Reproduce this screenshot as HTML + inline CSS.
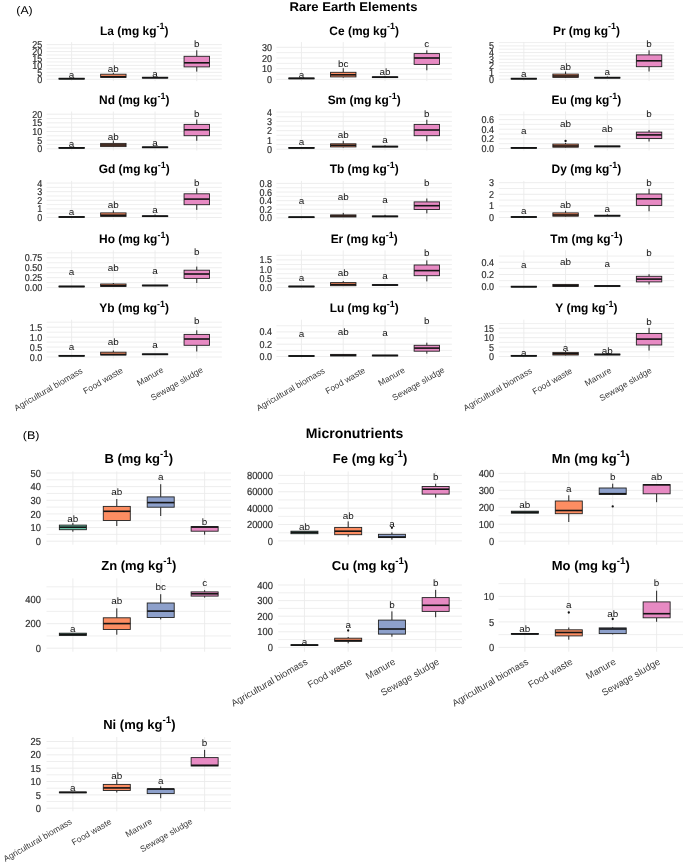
<!DOCTYPE html><html><head><meta charset="utf-8"><style>html,body{margin:0;padding:0;background:#fff;}svg{display:block;filter:blur(0.3px);text-rendering:geometricPrecision;font-family:"Liberation Sans",sans-serif;}</style></head><body>
<svg width="685" height="863" viewBox="0 0 685 863">
<rect width="685" height="863" fill="#fff"/>
<text transform="translate(16.3,13.8) scale(1.1,1)" font-size="11.2" text-anchor="start" fill="#000">(A)</text>
<text x="353.5" y="10.9" font-size="12.6" font-weight="bold" text-anchor="middle" textLength="128" lengthAdjust="spacingAndGlyphs">Rare Earth Elements</text>
<text transform="translate(22.8,439.2) scale(1.12,1)" font-size="11.2" text-anchor="start" fill="#000">(B)</text>
<text x="354.6" y="437.6" font-size="14" font-weight="bold" text-anchor="middle" textLength="97.5" lengthAdjust="spacingAndGlyphs">Micronutrients</text>
<g stroke="#EBEBEB" fill="none">
<line x1="46.6" x2="221.8" y1="75.83" y2="75.83" stroke-width="0.8"/>
<line x1="46.6" x2="221.8" y1="68.89" y2="68.89" stroke-width="0.8"/>
<line x1="46.6" x2="221.8" y1="61.95" y2="61.95" stroke-width="0.8"/>
<line x1="46.6" x2="221.8" y1="55.01" y2="55.01" stroke-width="0.8"/>
<line x1="46.6" x2="221.8" y1="48.07" y2="48.07" stroke-width="0.8"/>
<line x1="46.6" x2="221.8" y1="79.3" y2="79.3" stroke-width="0.9"/>
<line x1="46.6" x2="221.8" y1="72.36" y2="72.36" stroke-width="0.9"/>
<line x1="46.6" x2="221.8" y1="65.42" y2="65.42" stroke-width="0.9"/>
<line x1="46.6" x2="221.8" y1="58.48" y2="58.48" stroke-width="0.9"/>
<line x1="46.6" x2="221.8" y1="51.54" y2="51.54" stroke-width="0.9"/>
<line x1="46.6" x2="221.8" y1="44.6" y2="44.6" stroke-width="0.9"/>
<line x1="71.63" x2="71.63" y1="42.1" y2="81.1" stroke-width="0.9"/>
<line x1="113.34" x2="113.34" y1="42.1" y2="81.1" stroke-width="0.9"/>
<line x1="155.06" x2="155.06" y1="42.1" y2="81.1" stroke-width="0.9"/>
<line x1="196.77" x2="196.77" y1="42.1" y2="81.1" stroke-width="0.9"/>
</g>
<text transform="translate(42.2,82.88) scale(0.9,1)" font-size="10" text-anchor="end" fill="#2e2e2e" stroke="#2e2e2e" stroke-width="0.2">0</text>
<text transform="translate(42.2,75.94) scale(0.9,1)" font-size="10" text-anchor="end" fill="#2e2e2e" stroke="#2e2e2e" stroke-width="0.2">5</text>
<text transform="translate(42.2,69) scale(0.9,1)" font-size="10" text-anchor="end" fill="#2e2e2e" stroke="#2e2e2e" stroke-width="0.2">10</text>
<text transform="translate(42.2,62.06) scale(0.9,1)" font-size="10" text-anchor="end" fill="#2e2e2e" stroke="#2e2e2e" stroke-width="0.2">15</text>
<text transform="translate(42.2,55.12) scale(0.9,1)" font-size="10" text-anchor="end" fill="#2e2e2e" stroke="#2e2e2e" stroke-width="0.2">20</text>
<text transform="translate(42.2,48.18) scale(0.9,1)" font-size="10" text-anchor="end" fill="#2e2e2e" stroke="#2e2e2e" stroke-width="0.2">25</text>
<g stroke="#222">
<rect x="58.93" y="78.3" width="25.4" height="0.8" fill="#66C2A5" stroke-width="0.9"/>
<line x1="58.93" x2="84.33" y1="78.7" y2="78.7" stroke="#141414" stroke-width="1.6"/>
</g>
<g stroke="#222">
<line x1="113.34" x2="113.34" y1="72.8" y2="74.2" stroke-width="1"/>
<rect x="100.64" y="74.2" width="25.4" height="3.2" fill="#FC8D62" stroke-width="0.9"/>
<line x1="100.64" x2="126.04" y1="76.7" y2="76.7" stroke="#141414" stroke-width="1.6"/>
</g>
<g stroke="#222">
<rect x="142.36" y="77.3" width="25.4" height="0.8" fill="#8DA0CB" stroke-width="0.9"/>
<line x1="142.36" x2="167.76" y1="77.7" y2="77.7" stroke="#141414" stroke-width="1.6"/>
</g>
<g stroke="#222">
<line x1="196.77" x2="196.77" y1="50.3" y2="56.3" stroke-width="1"/>
<line x1="196.77" x2="196.77" y1="66.9" y2="71.6" stroke-width="1"/>
<rect x="184.07" y="56.3" width="25.4" height="10.6" fill="#E78AC3" stroke-width="0.9"/>
<line x1="184.07" x2="209.47" y1="62.8" y2="62.8" stroke="#141414" stroke-width="1.6"/>
</g>
<text transform="translate(71.63,77.5) scale(1.08,1)" font-size="9.2" text-anchor="middle" fill="#151515">a</text>
<text transform="translate(113.34,71.9) scale(1.08,1)" font-size="9.2" text-anchor="middle" fill="#151515">ab</text>
<text transform="translate(155.06,76.5) scale(1.08,1)" font-size="9.2" text-anchor="middle" fill="#151515">a</text>
<text transform="translate(196.77,47) scale(1.08,1)" font-size="9.2" text-anchor="middle" fill="#151515">b</text>
<text transform="translate(134.2,34.5) scale(0.98,1)" font-size="12.2" font-weight="bold" text-anchor="middle" fill="#000">La (mg kg<tspan font-size="9.15" dy="-5.12">-1</tspan><tspan dy="5.12">)</tspan></text>
<g stroke="#EBEBEB" fill="none">
<line x1="276.4" x2="451.9" y1="74.05" y2="74.05" stroke-width="0.8"/>
<line x1="276.4" x2="451.9" y1="63.35" y2="63.35" stroke-width="0.8"/>
<line x1="276.4" x2="451.9" y1="52.65" y2="52.65" stroke-width="0.8"/>
<line x1="276.4" x2="451.9" y1="79.4" y2="79.4" stroke-width="0.9"/>
<line x1="276.4" x2="451.9" y1="68.7" y2="68.7" stroke-width="0.9"/>
<line x1="276.4" x2="451.9" y1="58" y2="58" stroke-width="0.9"/>
<line x1="276.4" x2="451.9" y1="47.3" y2="47.3" stroke-width="0.9"/>
<line x1="301.47" x2="301.47" y1="42.1" y2="81.1" stroke-width="0.9"/>
<line x1="343.26" x2="343.26" y1="42.1" y2="81.1" stroke-width="0.9"/>
<line x1="385.04" x2="385.04" y1="42.1" y2="81.1" stroke-width="0.9"/>
<line x1="426.83" x2="426.83" y1="42.1" y2="81.1" stroke-width="0.9"/>
</g>
<text transform="translate(272,82.98) scale(0.9,1)" font-size="10" text-anchor="end" fill="#2e2e2e" stroke="#2e2e2e" stroke-width="0.2">0</text>
<text transform="translate(272,72.28) scale(0.9,1)" font-size="10" text-anchor="end" fill="#2e2e2e" stroke="#2e2e2e" stroke-width="0.2">10</text>
<text transform="translate(272,61.58) scale(0.9,1)" font-size="10" text-anchor="end" fill="#2e2e2e" stroke="#2e2e2e" stroke-width="0.2">20</text>
<text transform="translate(272,50.88) scale(0.9,1)" font-size="10" text-anchor="end" fill="#2e2e2e" stroke="#2e2e2e" stroke-width="0.2">30</text>
<g stroke="#222">
<rect x="288.77" y="78" width="25.4" height="0.8" fill="#66C2A5" stroke-width="0.9"/>
<line x1="288.77" x2="314.17" y1="78.4" y2="78.4" stroke="#141414" stroke-width="1.6"/>
</g>
<g stroke="#222">
<line x1="343.26" x2="343.26" y1="68.2" y2="72.3" stroke-width="1"/>
<line x1="343.26" x2="343.26" y1="76.9" y2="77.6" stroke-width="1"/>
<rect x="330.56" y="72.3" width="25.4" height="4.6" fill="#FC8D62" stroke-width="0.9"/>
<line x1="330.56" x2="355.96" y1="74.8" y2="74.8" stroke="#141414" stroke-width="1.6"/>
</g>
<g stroke="#222">
<line x1="385.04" x2="385.04" y1="75.8" y2="76.8" stroke-width="1"/>
<rect x="372.34" y="76.8" width="25.4" height="0.8" fill="#8DA0CB" stroke-width="0.9"/>
<line x1="372.34" x2="397.74" y1="77.2" y2="77.2" stroke="#141414" stroke-width="1.6"/>
</g>
<g stroke="#222">
<line x1="426.83" x2="426.83" y1="50.3" y2="53.6" stroke-width="1"/>
<line x1="426.83" x2="426.83" y1="64.4" y2="70.3" stroke-width="1"/>
<rect x="414.13" y="53.6" width="25.4" height="10.8" fill="#E78AC3" stroke-width="0.9"/>
<line x1="414.13" x2="439.53" y1="58" y2="58" stroke="#141414" stroke-width="1.6"/>
</g>
<text transform="translate(301.47,77.9) scale(1.08,1)" font-size="9.2" text-anchor="middle" fill="#151515">a</text>
<text transform="translate(343.26,66.9) scale(1.08,1)" font-size="9.2" text-anchor="middle" fill="#151515">bc</text>
<text transform="translate(385.04,75.4) scale(1.08,1)" font-size="9.2" text-anchor="middle" fill="#151515">ab</text>
<text transform="translate(426.83,47.3) scale(1.08,1)" font-size="9.2" text-anchor="middle" fill="#151515">c</text>
<text transform="translate(364.15,34.5) scale(0.98,1)" font-size="12.2" font-weight="bold" text-anchor="middle" fill="#000">Ce (mg kg<tspan font-size="9.15" dy="-5.12">-1</tspan><tspan dy="5.12">)</tspan></text>
<g stroke="#EBEBEB" fill="none">
<line x1="498.8" x2="674.1" y1="75.87" y2="75.87" stroke-width="0.8"/>
<line x1="498.8" x2="674.1" y1="69.21" y2="69.21" stroke-width="0.8"/>
<line x1="498.8" x2="674.1" y1="62.55" y2="62.55" stroke-width="0.8"/>
<line x1="498.8" x2="674.1" y1="55.89" y2="55.89" stroke-width="0.8"/>
<line x1="498.8" x2="674.1" y1="49.23" y2="49.23" stroke-width="0.8"/>
<line x1="498.8" x2="674.1" y1="42.57" y2="42.57" stroke-width="0.8"/>
<line x1="498.8" x2="674.1" y1="79.2" y2="79.2" stroke-width="0.9"/>
<line x1="498.8" x2="674.1" y1="72.54" y2="72.54" stroke-width="0.9"/>
<line x1="498.8" x2="674.1" y1="65.88" y2="65.88" stroke-width="0.9"/>
<line x1="498.8" x2="674.1" y1="59.22" y2="59.22" stroke-width="0.9"/>
<line x1="498.8" x2="674.1" y1="52.56" y2="52.56" stroke-width="0.9"/>
<line x1="498.8" x2="674.1" y1="45.9" y2="45.9" stroke-width="0.9"/>
<line x1="523.84" x2="523.84" y1="42.1" y2="81.1" stroke-width="0.9"/>
<line x1="565.58" x2="565.58" y1="42.1" y2="81.1" stroke-width="0.9"/>
<line x1="607.32" x2="607.32" y1="42.1" y2="81.1" stroke-width="0.9"/>
<line x1="649.06" x2="649.06" y1="42.1" y2="81.1" stroke-width="0.9"/>
</g>
<text transform="translate(494,82.78) scale(0.9,1)" font-size="10" text-anchor="end" fill="#2e2e2e" stroke="#2e2e2e" stroke-width="0.2">0</text>
<text transform="translate(494,76.12) scale(0.9,1)" font-size="10" text-anchor="end" fill="#2e2e2e" stroke="#2e2e2e" stroke-width="0.2">1</text>
<text transform="translate(494,69.46) scale(0.9,1)" font-size="10" text-anchor="end" fill="#2e2e2e" stroke="#2e2e2e" stroke-width="0.2">2</text>
<text transform="translate(494,62.8) scale(0.9,1)" font-size="10" text-anchor="end" fill="#2e2e2e" stroke="#2e2e2e" stroke-width="0.2">3</text>
<text transform="translate(494,56.14) scale(0.9,1)" font-size="10" text-anchor="end" fill="#2e2e2e" stroke="#2e2e2e" stroke-width="0.2">4</text>
<text transform="translate(494,49.48) scale(0.9,1)" font-size="10" text-anchor="end" fill="#2e2e2e" stroke="#2e2e2e" stroke-width="0.2">5</text>
<g stroke="#222">
<rect x="511.14" y="78.3" width="25.4" height="0.8" fill="#66C2A5" stroke-width="0.9"/>
<line x1="511.14" x2="536.54" y1="78.7" y2="78.7" stroke="#141414" stroke-width="1.6"/>
</g>
<g stroke="#222">
<line x1="565.58" x2="565.58" y1="71.5" y2="74.1" stroke-width="1"/>
<line x1="565.58" x2="565.58" y1="77.4" y2="78" stroke-width="1"/>
<rect x="552.88" y="74.1" width="25.4" height="3.3" fill="#FC8D62" stroke-width="0.9"/>
<line x1="552.88" x2="578.28" y1="76" y2="76" stroke="#141414" stroke-width="1.6"/>
</g>
<g stroke="#222">
<line x1="607.32" x2="607.32" y1="76.5" y2="77.3" stroke-width="1"/>
<rect x="594.62" y="77.3" width="25.4" height="0.8" fill="#8DA0CB" stroke-width="0.9"/>
<line x1="594.62" x2="620.02" y1="77.7" y2="77.7" stroke="#141414" stroke-width="1.6"/>
</g>
<g stroke="#222">
<line x1="649.06" x2="649.06" y1="50.3" y2="54.9" stroke-width="1"/>
<line x1="649.06" x2="649.06" y1="66.7" y2="71.5" stroke-width="1"/>
<rect x="636.36" y="54.9" width="25.4" height="11.8" fill="#E78AC3" stroke-width="0.9"/>
<line x1="636.36" x2="661.76" y1="60.8" y2="60.8" stroke="#141414" stroke-width="1.6"/>
</g>
<text transform="translate(523.84,77.2) scale(1.08,1)" font-size="9.2" text-anchor="middle" fill="#151515">a</text>
<text transform="translate(565.58,69.5) scale(1.08,1)" font-size="9.2" text-anchor="middle" fill="#151515">ab</text>
<text transform="translate(607.32,75.1) scale(1.08,1)" font-size="9.2" text-anchor="middle" fill="#151515">a</text>
<text transform="translate(649.06,47.3) scale(1.08,1)" font-size="9.2" text-anchor="middle" fill="#151515">b</text>
<text transform="translate(586.45,34.5) scale(0.98,1)" font-size="12.2" font-weight="bold" text-anchor="middle" fill="#000">Pr (mg kg<tspan font-size="9.15" dy="-5.12">-1</tspan><tspan dy="5.12">)</tspan></text>
<g stroke="#EBEBEB" fill="none">
<line x1="46.6" x2="221.8" y1="144.48" y2="144.48" stroke-width="0.8"/>
<line x1="46.6" x2="221.8" y1="135.82" y2="135.82" stroke-width="0.8"/>
<line x1="46.6" x2="221.8" y1="127.18" y2="127.18" stroke-width="0.8"/>
<line x1="46.6" x2="221.8" y1="118.53" y2="118.53" stroke-width="0.8"/>
<line x1="46.6" x2="221.8" y1="148.8" y2="148.8" stroke-width="0.9"/>
<line x1="46.6" x2="221.8" y1="140.15" y2="140.15" stroke-width="0.9"/>
<line x1="46.6" x2="221.8" y1="131.5" y2="131.5" stroke-width="0.9"/>
<line x1="46.6" x2="221.8" y1="122.85" y2="122.85" stroke-width="0.9"/>
<line x1="46.6" x2="221.8" y1="114.2" y2="114.2" stroke-width="0.9"/>
<line x1="71.63" x2="71.63" y1="111.5" y2="150.5" stroke-width="0.9"/>
<line x1="113.34" x2="113.34" y1="111.5" y2="150.5" stroke-width="0.9"/>
<line x1="155.06" x2="155.06" y1="111.5" y2="150.5" stroke-width="0.9"/>
<line x1="196.77" x2="196.77" y1="111.5" y2="150.5" stroke-width="0.9"/>
</g>
<text transform="translate(42.2,152.38) scale(0.9,1)" font-size="10" text-anchor="end" fill="#2e2e2e" stroke="#2e2e2e" stroke-width="0.2">0</text>
<text transform="translate(42.2,143.73) scale(0.9,1)" font-size="10" text-anchor="end" fill="#2e2e2e" stroke="#2e2e2e" stroke-width="0.2">5</text>
<text transform="translate(42.2,135.08) scale(0.9,1)" font-size="10" text-anchor="end" fill="#2e2e2e" stroke="#2e2e2e" stroke-width="0.2">10</text>
<text transform="translate(42.2,126.43) scale(0.9,1)" font-size="10" text-anchor="end" fill="#2e2e2e" stroke="#2e2e2e" stroke-width="0.2">15</text>
<text transform="translate(42.2,117.78) scale(0.9,1)" font-size="10" text-anchor="end" fill="#2e2e2e" stroke="#2e2e2e" stroke-width="0.2">20</text>
<g stroke="#222">
<rect x="58.93" y="147.5" width="25.4" height="0.8" fill="#66C2A5" stroke-width="0.9"/>
<line x1="58.93" x2="84.33" y1="147.9" y2="147.9" stroke="#141414" stroke-width="1.6"/>
</g>
<g stroke="#222">
<line x1="113.34" x2="113.34" y1="140.5" y2="143.4" stroke-width="1"/>
<line x1="113.34" x2="113.34" y1="146.6" y2="147" stroke-width="1"/>
<rect x="100.64" y="143.4" width="25.4" height="3.2" fill="#FC8D62" stroke-width="0.9"/>
<line x1="100.64" x2="126.04" y1="145" y2="145" stroke="#141414" stroke-width="1.6"/>
</g>
<g stroke="#222">
<rect x="142.36" y="146.9" width="25.4" height="0.8" fill="#8DA0CB" stroke-width="0.9"/>
<line x1="142.36" x2="167.76" y1="147.3" y2="147.3" stroke="#141414" stroke-width="1.6"/>
</g>
<g stroke="#222">
<line x1="196.77" x2="196.77" y1="119.6" y2="124.4" stroke-width="1"/>
<line x1="196.77" x2="196.77" y1="135.7" y2="140.8" stroke-width="1"/>
<rect x="184.07" y="124.4" width="25.4" height="11.3" fill="#E78AC3" stroke-width="0.9"/>
<line x1="184.07" x2="209.47" y1="129.8" y2="129.8" stroke="#141414" stroke-width="1.6"/>
</g>
<text transform="translate(71.63,147.3) scale(1.08,1)" font-size="9.2" text-anchor="middle" fill="#151515">a</text>
<text transform="translate(113.34,139.7) scale(1.08,1)" font-size="9.2" text-anchor="middle" fill="#151515">ab</text>
<text transform="translate(155.06,146.2) scale(1.08,1)" font-size="9.2" text-anchor="middle" fill="#151515">a</text>
<text transform="translate(196.77,116.7) scale(1.08,1)" font-size="9.2" text-anchor="middle" fill="#151515">b</text>
<text transform="translate(134.2,103.9) scale(0.98,1)" font-size="12.2" font-weight="bold" text-anchor="middle" fill="#000">Nd (mg kg<tspan font-size="9.15" dy="-5.12">-1</tspan><tspan dy="5.12">)</tspan></text>
<g stroke="#EBEBEB" fill="none">
<line x1="276.4" x2="451.9" y1="144.56" y2="144.56" stroke-width="0.8"/>
<line x1="276.4" x2="451.9" y1="135.29" y2="135.29" stroke-width="0.8"/>
<line x1="276.4" x2="451.9" y1="126.01" y2="126.01" stroke-width="0.8"/>
<line x1="276.4" x2="451.9" y1="116.74" y2="116.74" stroke-width="0.8"/>
<line x1="276.4" x2="451.9" y1="149.2" y2="149.2" stroke-width="0.9"/>
<line x1="276.4" x2="451.9" y1="139.92" y2="139.92" stroke-width="0.9"/>
<line x1="276.4" x2="451.9" y1="130.65" y2="130.65" stroke-width="0.9"/>
<line x1="276.4" x2="451.9" y1="121.38" y2="121.38" stroke-width="0.9"/>
<line x1="276.4" x2="451.9" y1="112.1" y2="112.1" stroke-width="0.9"/>
<line x1="301.47" x2="301.47" y1="111.5" y2="150.5" stroke-width="0.9"/>
<line x1="343.26" x2="343.26" y1="111.5" y2="150.5" stroke-width="0.9"/>
<line x1="385.04" x2="385.04" y1="111.5" y2="150.5" stroke-width="0.9"/>
<line x1="426.83" x2="426.83" y1="111.5" y2="150.5" stroke-width="0.9"/>
</g>
<text transform="translate(272,152.78) scale(0.9,1)" font-size="10" text-anchor="end" fill="#2e2e2e" stroke="#2e2e2e" stroke-width="0.2">0</text>
<text transform="translate(272,143.5) scale(0.9,1)" font-size="10" text-anchor="end" fill="#2e2e2e" stroke="#2e2e2e" stroke-width="0.2">1</text>
<text transform="translate(272,134.23) scale(0.9,1)" font-size="10" text-anchor="end" fill="#2e2e2e" stroke="#2e2e2e" stroke-width="0.2">2</text>
<text transform="translate(272,124.95) scale(0.9,1)" font-size="10" text-anchor="end" fill="#2e2e2e" stroke="#2e2e2e" stroke-width="0.2">3</text>
<text transform="translate(272,115.68) scale(0.9,1)" font-size="10" text-anchor="end" fill="#2e2e2e" stroke="#2e2e2e" stroke-width="0.2">4</text>
<g stroke="#222">
<rect x="288.77" y="147.5" width="25.4" height="0.8" fill="#66C2A5" stroke-width="0.9"/>
<line x1="288.77" x2="314.17" y1="147.9" y2="147.9" stroke="#141414" stroke-width="1.6"/>
</g>
<g stroke="#222">
<line x1="343.26" x2="343.26" y1="140.8" y2="143.8" stroke-width="1"/>
<line x1="343.26" x2="343.26" y1="146.9" y2="147.4" stroke-width="1"/>
<rect x="330.56" y="143.8" width="25.4" height="3.1" fill="#FC8D62" stroke-width="0.9"/>
<line x1="330.56" x2="355.96" y1="145.3" y2="145.3" stroke="#141414" stroke-width="1.6"/>
</g>
<g stroke="#222">
<line x1="385.04" x2="385.04" y1="145.4" y2="146.2" stroke-width="1"/>
<rect x="372.34" y="146.2" width="25.4" height="0.8" fill="#8DA0CB" stroke-width="0.9"/>
<line x1="372.34" x2="397.74" y1="146.6" y2="146.6" stroke="#141414" stroke-width="1.6"/>
</g>
<g stroke="#222">
<line x1="426.83" x2="426.83" y1="119.8" y2="124.4" stroke-width="1"/>
<line x1="426.83" x2="426.83" y1="135.7" y2="141.3" stroke-width="1"/>
<rect x="414.13" y="124.4" width="25.4" height="11.3" fill="#E78AC3" stroke-width="0.9"/>
<line x1="414.13" x2="439.53" y1="130" y2="130" stroke="#141414" stroke-width="1.6"/>
</g>
<text transform="translate(301.47,145.4) scale(1.08,1)" font-size="9.2" text-anchor="middle" fill="#151515">a</text>
<text transform="translate(343.26,138.2) scale(1.08,1)" font-size="9.2" text-anchor="middle" fill="#151515">ab</text>
<text transform="translate(385.04,142.8) scale(1.08,1)" font-size="9.2" text-anchor="middle" fill="#151515">a</text>
<text transform="translate(426.83,116.8) scale(1.08,1)" font-size="9.2" text-anchor="middle" fill="#151515">b</text>
<text transform="translate(364.15,103.9) scale(0.98,1)" font-size="12.2" font-weight="bold" text-anchor="middle" fill="#000">Sm (mg kg<tspan font-size="9.15" dy="-5.12">-1</tspan><tspan dy="5.12">)</tspan></text>
<g stroke="#EBEBEB" fill="none">
<line x1="498.8" x2="674.1" y1="143.68" y2="143.68" stroke-width="0.8"/>
<line x1="498.8" x2="674.1" y1="134.05" y2="134.05" stroke-width="0.8"/>
<line x1="498.8" x2="674.1" y1="124.42" y2="124.42" stroke-width="0.8"/>
<line x1="498.8" x2="674.1" y1="114.78" y2="114.78" stroke-width="0.8"/>
<line x1="498.8" x2="674.1" y1="148.5" y2="148.5" stroke-width="0.9"/>
<line x1="498.8" x2="674.1" y1="138.87" y2="138.87" stroke-width="0.9"/>
<line x1="498.8" x2="674.1" y1="129.23" y2="129.23" stroke-width="0.9"/>
<line x1="498.8" x2="674.1" y1="119.6" y2="119.6" stroke-width="0.9"/>
<line x1="523.84" x2="523.84" y1="111.5" y2="150.5" stroke-width="0.9"/>
<line x1="565.58" x2="565.58" y1="111.5" y2="150.5" stroke-width="0.9"/>
<line x1="607.32" x2="607.32" y1="111.5" y2="150.5" stroke-width="0.9"/>
<line x1="649.06" x2="649.06" y1="111.5" y2="150.5" stroke-width="0.9"/>
</g>
<text transform="translate(494,152.08) scale(0.9,1)" font-size="10" text-anchor="end" fill="#2e2e2e" stroke="#2e2e2e" stroke-width="0.2">0.0</text>
<text transform="translate(494,142.45) scale(0.9,1)" font-size="10" text-anchor="end" fill="#2e2e2e" stroke="#2e2e2e" stroke-width="0.2">0.2</text>
<text transform="translate(494,132.81) scale(0.9,1)" font-size="10" text-anchor="end" fill="#2e2e2e" stroke="#2e2e2e" stroke-width="0.2">0.4</text>
<text transform="translate(494,123.18) scale(0.9,1)" font-size="10" text-anchor="end" fill="#2e2e2e" stroke="#2e2e2e" stroke-width="0.2">0.6</text>
<g stroke="#222">
<rect x="511.14" y="147.5" width="25.4" height="0.8" fill="#66C2A5" stroke-width="0.9"/>
<line x1="511.14" x2="536.54" y1="147.9" y2="147.9" stroke="#141414" stroke-width="1.6"/>
</g>
<g stroke="#222">
<line x1="565.58" x2="565.58" y1="143" y2="144.1" stroke-width="1"/>
<line x1="565.58" x2="565.58" y1="147.2" y2="147.6" stroke-width="1"/>
<rect x="552.88" y="144.1" width="25.4" height="3.1" fill="#FC8D62" stroke-width="0.9"/>
<line x1="552.88" x2="578.28" y1="146" y2="146" stroke="#141414" stroke-width="1.6"/>
</g>
<circle cx="565.58" cy="141" r="1.15" fill="#111"/>
<g stroke="#222">
<rect x="594.62" y="146" width="25.4" height="0.8" fill="#8DA0CB" stroke-width="0.9"/>
<line x1="594.62" x2="620.02" y1="146.4" y2="146.4" stroke="#141414" stroke-width="1.6"/>
</g>
<g stroke="#222">
<line x1="649.06" x2="649.06" y1="130" y2="132.1" stroke-width="1"/>
<line x1="649.06" x2="649.06" y1="138.5" y2="141.5" stroke-width="1"/>
<rect x="636.36" y="132.1" width="25.4" height="6.4" fill="#E78AC3" stroke-width="0.9"/>
<line x1="636.36" x2="661.76" y1="134.9" y2="134.9" stroke="#141414" stroke-width="1.6"/>
</g>
<text transform="translate(523.84,133.9) scale(1.08,1)" font-size="9.2" text-anchor="middle" fill="#151515">a</text>
<text transform="translate(565.58,127) scale(1.08,1)" font-size="9.2" text-anchor="middle" fill="#151515">ab</text>
<text transform="translate(607.32,132.1) scale(1.08,1)" font-size="9.2" text-anchor="middle" fill="#151515">ab</text>
<text transform="translate(649.06,116.8) scale(1.08,1)" font-size="9.2" text-anchor="middle" fill="#151515">b</text>
<text transform="translate(586.45,103.9) scale(0.98,1)" font-size="12.2" font-weight="bold" text-anchor="middle" fill="#000">Eu (mg kg<tspan font-size="9.15" dy="-5.12">-1</tspan><tspan dy="5.12">)</tspan></text>
<g stroke="#EBEBEB" fill="none">
<line x1="46.6" x2="221.8" y1="213.2" y2="213.2" stroke-width="0.8"/>
<line x1="46.6" x2="221.8" y1="204.6" y2="204.6" stroke-width="0.8"/>
<line x1="46.6" x2="221.8" y1="196" y2="196" stroke-width="0.8"/>
<line x1="46.6" x2="221.8" y1="187.4" y2="187.4" stroke-width="0.8"/>
<line x1="46.6" x2="221.8" y1="217.5" y2="217.5" stroke-width="0.9"/>
<line x1="46.6" x2="221.8" y1="208.9" y2="208.9" stroke-width="0.9"/>
<line x1="46.6" x2="221.8" y1="200.3" y2="200.3" stroke-width="0.9"/>
<line x1="46.6" x2="221.8" y1="191.7" y2="191.7" stroke-width="0.9"/>
<line x1="46.6" x2="221.8" y1="183.1" y2="183.1" stroke-width="0.9"/>
<line x1="71.63" x2="71.63" y1="180.9" y2="219.9" stroke-width="0.9"/>
<line x1="113.34" x2="113.34" y1="180.9" y2="219.9" stroke-width="0.9"/>
<line x1="155.06" x2="155.06" y1="180.9" y2="219.9" stroke-width="0.9"/>
<line x1="196.77" x2="196.77" y1="180.9" y2="219.9" stroke-width="0.9"/>
</g>
<text transform="translate(42.2,221.08) scale(0.9,1)" font-size="10" text-anchor="end" fill="#2e2e2e" stroke="#2e2e2e" stroke-width="0.2">0</text>
<text transform="translate(42.2,212.48) scale(0.9,1)" font-size="10" text-anchor="end" fill="#2e2e2e" stroke="#2e2e2e" stroke-width="0.2">1</text>
<text transform="translate(42.2,203.88) scale(0.9,1)" font-size="10" text-anchor="end" fill="#2e2e2e" stroke="#2e2e2e" stroke-width="0.2">2</text>
<text transform="translate(42.2,195.28) scale(0.9,1)" font-size="10" text-anchor="end" fill="#2e2e2e" stroke="#2e2e2e" stroke-width="0.2">3</text>
<text transform="translate(42.2,186.68) scale(0.9,1)" font-size="10" text-anchor="end" fill="#2e2e2e" stroke="#2e2e2e" stroke-width="0.2">4</text>
<g stroke="#222">
<rect x="58.93" y="216.6" width="25.4" height="0.8" fill="#66C2A5" stroke-width="0.9"/>
<line x1="58.93" x2="84.33" y1="217" y2="217" stroke="#141414" stroke-width="1.6"/>
</g>
<g stroke="#222">
<line x1="113.34" x2="113.34" y1="210.4" y2="212.9" stroke-width="1"/>
<line x1="113.34" x2="113.34" y1="216.5" y2="217" stroke-width="1"/>
<rect x="100.64" y="212.9" width="25.4" height="3.6" fill="#FC8D62" stroke-width="0.9"/>
<line x1="100.64" x2="126.04" y1="215.2" y2="215.2" stroke="#141414" stroke-width="1.6"/>
</g>
<g stroke="#222">
<line x1="155.06" x2="155.06" y1="214.5" y2="215.8" stroke-width="1"/>
<rect x="142.36" y="215.8" width="25.4" height="0.8" fill="#8DA0CB" stroke-width="0.9"/>
<line x1="142.36" x2="167.76" y1="216.2" y2="216.2" stroke="#141414" stroke-width="1.6"/>
</g>
<g stroke="#222">
<line x1="196.77" x2="196.77" y1="188.4" y2="193.8" stroke-width="1"/>
<line x1="196.77" x2="196.77" y1="204.7" y2="209.9" stroke-width="1"/>
<rect x="184.07" y="193.8" width="25.4" height="10.9" fill="#E78AC3" stroke-width="0.9"/>
<line x1="184.07" x2="209.47" y1="199.1" y2="199.1" stroke="#141414" stroke-width="1.6"/>
</g>
<text transform="translate(71.63,214.7) scale(1.08,1)" font-size="9.2" text-anchor="middle" fill="#151515">a</text>
<text transform="translate(113.34,208.3) scale(1.08,1)" font-size="9.2" text-anchor="middle" fill="#151515">ab</text>
<text transform="translate(155.06,212.9) scale(1.08,1)" font-size="9.2" text-anchor="middle" fill="#151515">a</text>
<text transform="translate(196.77,185.8) scale(1.08,1)" font-size="9.2" text-anchor="middle" fill="#151515">b</text>
<text transform="translate(134.2,173.3) scale(0.98,1)" font-size="12.2" font-weight="bold" text-anchor="middle" fill="#000">Gd (mg kg<tspan font-size="9.15" dy="-5.12">-1</tspan><tspan dy="5.12">)</tspan></text>
<g stroke="#EBEBEB" fill="none">
<line x1="276.4" x2="451.9" y1="213.59" y2="213.59" stroke-width="0.8"/>
<line x1="276.4" x2="451.9" y1="204.96" y2="204.96" stroke-width="0.8"/>
<line x1="276.4" x2="451.9" y1="196.34" y2="196.34" stroke-width="0.8"/>
<line x1="276.4" x2="451.9" y1="187.71" y2="187.71" stroke-width="0.8"/>
<line x1="276.4" x2="451.9" y1="217.9" y2="217.9" stroke-width="0.9"/>
<line x1="276.4" x2="451.9" y1="209.28" y2="209.28" stroke-width="0.9"/>
<line x1="276.4" x2="451.9" y1="200.65" y2="200.65" stroke-width="0.9"/>
<line x1="276.4" x2="451.9" y1="192.03" y2="192.03" stroke-width="0.9"/>
<line x1="276.4" x2="451.9" y1="183.4" y2="183.4" stroke-width="0.9"/>
<line x1="301.47" x2="301.47" y1="180.9" y2="219.9" stroke-width="0.9"/>
<line x1="343.26" x2="343.26" y1="180.9" y2="219.9" stroke-width="0.9"/>
<line x1="385.04" x2="385.04" y1="180.9" y2="219.9" stroke-width="0.9"/>
<line x1="426.83" x2="426.83" y1="180.9" y2="219.9" stroke-width="0.9"/>
</g>
<text transform="translate(272,221.48) scale(0.9,1)" font-size="10" text-anchor="end" fill="#2e2e2e" stroke="#2e2e2e" stroke-width="0.2">0.0</text>
<text transform="translate(272,212.86) scale(0.9,1)" font-size="10" text-anchor="end" fill="#2e2e2e" stroke="#2e2e2e" stroke-width="0.2">0.2</text>
<text transform="translate(272,204.23) scale(0.9,1)" font-size="10" text-anchor="end" fill="#2e2e2e" stroke="#2e2e2e" stroke-width="0.2">0.4</text>
<text transform="translate(272,195.61) scale(0.9,1)" font-size="10" text-anchor="end" fill="#2e2e2e" stroke="#2e2e2e" stroke-width="0.2">0.6</text>
<text transform="translate(272,186.98) scale(0.9,1)" font-size="10" text-anchor="end" fill="#2e2e2e" stroke="#2e2e2e" stroke-width="0.2">0.8</text>
<g stroke="#222">
<rect x="288.77" y="216.8" width="25.4" height="0.8" fill="#66C2A5" stroke-width="0.9"/>
<line x1="288.77" x2="314.17" y1="217.2" y2="217.2" stroke="#141414" stroke-width="1.6"/>
</g>
<g stroke="#222">
<line x1="343.26" x2="343.26" y1="212.9" y2="214.9" stroke-width="1"/>
<rect x="330.56" y="214.9" width="25.4" height="2.1" fill="#FC8D62" stroke-width="0.9"/>
<line x1="330.56" x2="355.96" y1="216" y2="216" stroke="#141414" stroke-width="1.6"/>
</g>
<g stroke="#222">
<line x1="385.04" x2="385.04" y1="214.8" y2="216" stroke-width="1"/>
<rect x="372.34" y="216" width="25.4" height="0.8" fill="#8DA0CB" stroke-width="0.9"/>
<line x1="372.34" x2="397.74" y1="216.4" y2="216.4" stroke="#141414" stroke-width="1.6"/>
</g>
<g stroke="#222">
<line x1="426.83" x2="426.83" y1="198.5" y2="201.9" stroke-width="1"/>
<line x1="426.83" x2="426.83" y1="209.5" y2="213.4" stroke-width="1"/>
<rect x="414.13" y="201.9" width="25.4" height="7.6" fill="#E78AC3" stroke-width="0.9"/>
<line x1="414.13" x2="439.53" y1="205.7" y2="205.7" stroke="#141414" stroke-width="1.6"/>
</g>
<text transform="translate(301.47,204.2) scale(1.08,1)" font-size="9.2" text-anchor="middle" fill="#151515">a</text>
<text transform="translate(343.26,200.3) scale(1.08,1)" font-size="9.2" text-anchor="middle" fill="#151515">ab</text>
<text transform="translate(385.04,202.9) scale(1.08,1)" font-size="9.2" text-anchor="middle" fill="#151515">a</text>
<text transform="translate(426.83,185.8) scale(1.08,1)" font-size="9.2" text-anchor="middle" fill="#151515">b</text>
<text transform="translate(364.15,173.3) scale(0.98,1)" font-size="12.2" font-weight="bold" text-anchor="middle" fill="#000">Tb (mg kg<tspan font-size="9.15" dy="-5.12">-1</tspan><tspan dy="5.12">)</tspan></text>
<g stroke="#EBEBEB" fill="none">
<line x1="498.8" x2="674.1" y1="211.7" y2="211.7" stroke-width="0.8"/>
<line x1="498.8" x2="674.1" y1="200.1" y2="200.1" stroke-width="0.8"/>
<line x1="498.8" x2="674.1" y1="188.5" y2="188.5" stroke-width="0.8"/>
<line x1="498.8" x2="674.1" y1="217.5" y2="217.5" stroke-width="0.9"/>
<line x1="498.8" x2="674.1" y1="205.9" y2="205.9" stroke-width="0.9"/>
<line x1="498.8" x2="674.1" y1="194.3" y2="194.3" stroke-width="0.9"/>
<line x1="498.8" x2="674.1" y1="182.7" y2="182.7" stroke-width="0.9"/>
<line x1="523.84" x2="523.84" y1="180.9" y2="219.9" stroke-width="0.9"/>
<line x1="565.58" x2="565.58" y1="180.9" y2="219.9" stroke-width="0.9"/>
<line x1="607.32" x2="607.32" y1="180.9" y2="219.9" stroke-width="0.9"/>
<line x1="649.06" x2="649.06" y1="180.9" y2="219.9" stroke-width="0.9"/>
</g>
<text transform="translate(494,221.08) scale(0.9,1)" font-size="10" text-anchor="end" fill="#2e2e2e" stroke="#2e2e2e" stroke-width="0.2">0</text>
<text transform="translate(494,209.48) scale(0.9,1)" font-size="10" text-anchor="end" fill="#2e2e2e" stroke="#2e2e2e" stroke-width="0.2">1</text>
<text transform="translate(494,197.88) scale(0.9,1)" font-size="10" text-anchor="end" fill="#2e2e2e" stroke="#2e2e2e" stroke-width="0.2">2</text>
<text transform="translate(494,186.28) scale(0.9,1)" font-size="10" text-anchor="end" fill="#2e2e2e" stroke="#2e2e2e" stroke-width="0.2">3</text>
<g stroke="#222">
<rect x="511.14" y="216.6" width="25.4" height="0.8" fill="#66C2A5" stroke-width="0.9"/>
<line x1="511.14" x2="536.54" y1="217" y2="217" stroke="#141414" stroke-width="1.6"/>
</g>
<g stroke="#222">
<line x1="565.58" x2="565.58" y1="210.8" y2="212.9" stroke-width="1"/>
<line x1="565.58" x2="565.58" y1="216.2" y2="216.6" stroke-width="1"/>
<rect x="552.88" y="212.9" width="25.4" height="3.3" fill="#FC8D62" stroke-width="0.9"/>
<line x1="552.88" x2="578.28" y1="215" y2="215" stroke="#141414" stroke-width="1.6"/>
</g>
<g stroke="#222">
<line x1="607.32" x2="607.32" y1="214.3" y2="215.3" stroke-width="1"/>
<rect x="594.62" y="215.3" width="25.4" height="0.8" fill="#8DA0CB" stroke-width="0.9"/>
<line x1="594.62" x2="620.02" y1="215.7" y2="215.7" stroke="#141414" stroke-width="1.6"/>
</g>
<g stroke="#222">
<line x1="649.06" x2="649.06" y1="188.8" y2="194" stroke-width="1"/>
<line x1="649.06" x2="649.06" y1="205.4" y2="211.3" stroke-width="1"/>
<rect x="636.36" y="194" width="25.4" height="11.4" fill="#E78AC3" stroke-width="0.9"/>
<line x1="636.36" x2="661.76" y1="198.8" y2="198.8" stroke="#141414" stroke-width="1.6"/>
</g>
<text transform="translate(523.84,213.9) scale(1.08,1)" font-size="9.2" text-anchor="middle" fill="#151515">a</text>
<text transform="translate(565.58,208) scale(1.08,1)" font-size="9.2" text-anchor="middle" fill="#151515">ab</text>
<text transform="translate(607.32,211.8) scale(1.08,1)" font-size="9.2" text-anchor="middle" fill="#151515">a</text>
<text transform="translate(649.06,185.8) scale(1.08,1)" font-size="9.2" text-anchor="middle" fill="#151515">b</text>
<text transform="translate(586.45,173.3) scale(0.98,1)" font-size="12.2" font-weight="bold" text-anchor="middle" fill="#000">Dy (mg kg<tspan font-size="9.15" dy="-5.12">-1</tspan><tspan dy="5.12">)</tspan></text>
<g stroke="#EBEBEB" fill="none">
<line x1="46.6" x2="221.8" y1="282.63" y2="282.63" stroke-width="0.8"/>
<line x1="46.6" x2="221.8" y1="272.7" y2="272.7" stroke-width="0.8"/>
<line x1="46.6" x2="221.8" y1="262.77" y2="262.77" stroke-width="0.8"/>
<line x1="46.6" x2="221.8" y1="252.83" y2="252.83" stroke-width="0.8"/>
<line x1="46.6" x2="221.8" y1="287.6" y2="287.6" stroke-width="0.9"/>
<line x1="46.6" x2="221.8" y1="277.67" y2="277.67" stroke-width="0.9"/>
<line x1="46.6" x2="221.8" y1="267.73" y2="267.73" stroke-width="0.9"/>
<line x1="46.6" x2="221.8" y1="257.8" y2="257.8" stroke-width="0.9"/>
<line x1="71.63" x2="71.63" y1="250.3" y2="289.3" stroke-width="0.9"/>
<line x1="113.34" x2="113.34" y1="250.3" y2="289.3" stroke-width="0.9"/>
<line x1="155.06" x2="155.06" y1="250.3" y2="289.3" stroke-width="0.9"/>
<line x1="196.77" x2="196.77" y1="250.3" y2="289.3" stroke-width="0.9"/>
</g>
<text transform="translate(42.2,291.18) scale(0.9,1)" font-size="10" text-anchor="end" fill="#2e2e2e" stroke="#2e2e2e" stroke-width="0.2">0.00</text>
<text transform="translate(42.2,281.25) scale(0.9,1)" font-size="10" text-anchor="end" fill="#2e2e2e" stroke="#2e2e2e" stroke-width="0.2">0.25</text>
<text transform="translate(42.2,271.31) scale(0.9,1)" font-size="10" text-anchor="end" fill="#2e2e2e" stroke="#2e2e2e" stroke-width="0.2">0.50</text>
<text transform="translate(42.2,261.38) scale(0.9,1)" font-size="10" text-anchor="end" fill="#2e2e2e" stroke="#2e2e2e" stroke-width="0.2">0.75</text>
<g stroke="#222">
<rect x="58.93" y="286.1" width="25.4" height="0.8" fill="#66C2A5" stroke-width="0.9"/>
<line x1="58.93" x2="84.33" y1="286.5" y2="286.5" stroke="#141414" stroke-width="1.6"/>
</g>
<g stroke="#222">
<line x1="113.34" x2="113.34" y1="283" y2="284" stroke-width="1"/>
<rect x="100.64" y="284" width="25.4" height="2.5" fill="#FC8D62" stroke-width="0.9"/>
<line x1="100.64" x2="126.04" y1="285.6" y2="285.6" stroke="#141414" stroke-width="1.6"/>
</g>
<g stroke="#222">
<rect x="142.36" y="285.1" width="25.4" height="0.8" fill="#8DA0CB" stroke-width="0.9"/>
<line x1="142.36" x2="167.76" y1="285.5" y2="285.5" stroke="#141414" stroke-width="1.6"/>
</g>
<g stroke="#222">
<line x1="196.77" x2="196.77" y1="266.6" y2="270.2" stroke-width="1"/>
<line x1="196.77" x2="196.77" y1="278.4" y2="283" stroke-width="1"/>
<rect x="184.07" y="270.2" width="25.4" height="8.2" fill="#E78AC3" stroke-width="0.9"/>
<line x1="184.07" x2="209.47" y1="274" y2="274" stroke="#141414" stroke-width="1.6"/>
</g>
<text transform="translate(71.63,275) scale(1.08,1)" font-size="9.2" text-anchor="middle" fill="#151515">a</text>
<text transform="translate(113.34,271.2) scale(1.08,1)" font-size="9.2" text-anchor="middle" fill="#151515">ab</text>
<text transform="translate(155.06,273.8) scale(1.08,1)" font-size="9.2" text-anchor="middle" fill="#151515">a</text>
<text transform="translate(196.77,255.4) scale(1.08,1)" font-size="9.2" text-anchor="middle" fill="#151515">b</text>
<text transform="translate(134.2,242.7) scale(0.98,1)" font-size="12.2" font-weight="bold" text-anchor="middle" fill="#000">Ho (mg kg<tspan font-size="9.15" dy="-5.12">-1</tspan><tspan dy="5.12">)</tspan></text>
<g stroke="#EBEBEB" fill="none">
<line x1="276.4" x2="451.9" y1="282.9" y2="282.9" stroke-width="0.8"/>
<line x1="276.4" x2="451.9" y1="273.7" y2="273.7" stroke-width="0.8"/>
<line x1="276.4" x2="451.9" y1="264.5" y2="264.5" stroke-width="0.8"/>
<line x1="276.4" x2="451.9" y1="255.3" y2="255.3" stroke-width="0.8"/>
<line x1="276.4" x2="451.9" y1="287.5" y2="287.5" stroke-width="0.9"/>
<line x1="276.4" x2="451.9" y1="278.3" y2="278.3" stroke-width="0.9"/>
<line x1="276.4" x2="451.9" y1="269.1" y2="269.1" stroke-width="0.9"/>
<line x1="276.4" x2="451.9" y1="259.9" y2="259.9" stroke-width="0.9"/>
<line x1="301.47" x2="301.47" y1="250.3" y2="289.3" stroke-width="0.9"/>
<line x1="343.26" x2="343.26" y1="250.3" y2="289.3" stroke-width="0.9"/>
<line x1="385.04" x2="385.04" y1="250.3" y2="289.3" stroke-width="0.9"/>
<line x1="426.83" x2="426.83" y1="250.3" y2="289.3" stroke-width="0.9"/>
</g>
<text transform="translate(272,291.08) scale(0.9,1)" font-size="10" text-anchor="end" fill="#2e2e2e" stroke="#2e2e2e" stroke-width="0.2">0.0</text>
<text transform="translate(272,281.88) scale(0.9,1)" font-size="10" text-anchor="end" fill="#2e2e2e" stroke="#2e2e2e" stroke-width="0.2">0.5</text>
<text transform="translate(272,272.68) scale(0.9,1)" font-size="10" text-anchor="end" fill="#2e2e2e" stroke="#2e2e2e" stroke-width="0.2">1.0</text>
<text transform="translate(272,263.48) scale(0.9,1)" font-size="10" text-anchor="end" fill="#2e2e2e" stroke="#2e2e2e" stroke-width="0.2">1.5</text>
<g stroke="#222">
<rect x="288.77" y="286.1" width="25.4" height="0.8" fill="#66C2A5" stroke-width="0.9"/>
<line x1="288.77" x2="314.17" y1="286.5" y2="286.5" stroke="#141414" stroke-width="1.6"/>
</g>
<g stroke="#222">
<line x1="343.26" x2="343.26" y1="281.1" y2="282.6" stroke-width="1"/>
<rect x="330.56" y="282.6" width="25.4" height="3.1" fill="#FC8D62" stroke-width="0.9"/>
<line x1="330.56" x2="355.96" y1="284.6" y2="284.6" stroke="#141414" stroke-width="1.6"/>
</g>
<g stroke="#222">
<rect x="372.34" y="284.6" width="25.4" height="0.8" fill="#8DA0CB" stroke-width="0.9"/>
<line x1="372.34" x2="397.74" y1="285" y2="285" stroke="#141414" stroke-width="1.6"/>
</g>
<g stroke="#222">
<line x1="426.83" x2="426.83" y1="260.4" y2="265" stroke-width="1"/>
<line x1="426.83" x2="426.83" y1="275.7" y2="281.4" stroke-width="1"/>
<rect x="414.13" y="265" width="25.4" height="10.7" fill="#E78AC3" stroke-width="0.9"/>
<line x1="414.13" x2="439.53" y1="270.6" y2="270.6" stroke="#141414" stroke-width="1.6"/>
</g>
<text transform="translate(301.47,281.1) scale(1.08,1)" font-size="9.2" text-anchor="middle" fill="#151515">a</text>
<text transform="translate(343.26,276.3) scale(1.08,1)" font-size="9.2" text-anchor="middle" fill="#151515">ab</text>
<text transform="translate(385.04,278.8) scale(1.08,1)" font-size="9.2" text-anchor="middle" fill="#151515">a</text>
<text transform="translate(426.83,255.6) scale(1.08,1)" font-size="9.2" text-anchor="middle" fill="#151515">b</text>
<text transform="translate(364.15,242.7) scale(0.98,1)" font-size="12.2" font-weight="bold" text-anchor="middle" fill="#000">Er (mg kg<tspan font-size="9.15" dy="-5.12">-1</tspan><tspan dy="5.12">)</tspan></text>
<g stroke="#EBEBEB" fill="none">
<line x1="498.8" x2="674.1" y1="280.65" y2="280.65" stroke-width="0.8"/>
<line x1="498.8" x2="674.1" y1="268.35" y2="268.35" stroke-width="0.8"/>
<line x1="498.8" x2="674.1" y1="256.05" y2="256.05" stroke-width="0.8"/>
<line x1="498.8" x2="674.1" y1="286.8" y2="286.8" stroke-width="0.9"/>
<line x1="498.8" x2="674.1" y1="274.5" y2="274.5" stroke-width="0.9"/>
<line x1="498.8" x2="674.1" y1="262.2" y2="262.2" stroke-width="0.9"/>
<line x1="523.84" x2="523.84" y1="250.3" y2="289.3" stroke-width="0.9"/>
<line x1="565.58" x2="565.58" y1="250.3" y2="289.3" stroke-width="0.9"/>
<line x1="607.32" x2="607.32" y1="250.3" y2="289.3" stroke-width="0.9"/>
<line x1="649.06" x2="649.06" y1="250.3" y2="289.3" stroke-width="0.9"/>
</g>
<text transform="translate(494,290.38) scale(0.9,1)" font-size="10" text-anchor="end" fill="#2e2e2e" stroke="#2e2e2e" stroke-width="0.2">0.0</text>
<text transform="translate(494,278.08) scale(0.9,1)" font-size="10" text-anchor="end" fill="#2e2e2e" stroke="#2e2e2e" stroke-width="0.2">0.2</text>
<text transform="translate(494,265.78) scale(0.9,1)" font-size="10" text-anchor="end" fill="#2e2e2e" stroke="#2e2e2e" stroke-width="0.2">0.4</text>
<g stroke="#222">
<rect x="511.14" y="286.3" width="25.4" height="0.8" fill="#66C2A5" stroke-width="0.9"/>
<line x1="511.14" x2="536.54" y1="286.7" y2="286.7" stroke="#141414" stroke-width="1.6"/>
</g>
<g stroke="#222">
<line x1="565.58" x2="565.58" y1="284" y2="284.4" stroke-width="1"/>
<rect x="552.88" y="284.4" width="25.4" height="2.1" fill="#FC8D62" stroke-width="0.9"/>
<line x1="552.88" x2="578.28" y1="285.5" y2="285.5" stroke="#141414" stroke-width="1.6"/>
</g>
<g stroke="#222">
<rect x="594.62" y="285.6" width="25.4" height="0.8" fill="#8DA0CB" stroke-width="0.9"/>
<line x1="594.62" x2="620.02" y1="286" y2="286" stroke="#141414" stroke-width="1.6"/>
</g>
<g stroke="#222">
<line x1="649.06" x2="649.06" y1="274.2" y2="276.3" stroke-width="1"/>
<line x1="649.06" x2="649.06" y1="281.9" y2="284.4" stroke-width="1"/>
<rect x="636.36" y="276.3" width="25.4" height="5.6" fill="#E78AC3" stroke-width="0.9"/>
<line x1="636.36" x2="661.76" y1="279.1" y2="279.1" stroke="#141414" stroke-width="1.6"/>
</g>
<text transform="translate(523.84,267.8) scale(1.08,1)" font-size="9.2" text-anchor="middle" fill="#151515">a</text>
<text transform="translate(565.58,265.3) scale(1.08,1)" font-size="9.2" text-anchor="middle" fill="#151515">ab</text>
<text transform="translate(607.32,267.1) scale(1.08,1)" font-size="9.2" text-anchor="middle" fill="#151515">a</text>
<text transform="translate(649.06,255.6) scale(1.08,1)" font-size="9.2" text-anchor="middle" fill="#151515">b</text>
<text transform="translate(586.45,242.7) scale(0.98,1)" font-size="12.2" font-weight="bold" text-anchor="middle" fill="#000">Tm (mg kg<tspan font-size="9.15" dy="-5.12">-1</tspan><tspan dy="5.12">)</tspan></text>
<g stroke="#EBEBEB" fill="none">
<line x1="46.6" x2="221.8" y1="352.03" y2="352.03" stroke-width="0.8"/>
<line x1="46.6" x2="221.8" y1="342.1" y2="342.1" stroke-width="0.8"/>
<line x1="46.6" x2="221.8" y1="332.17" y2="332.17" stroke-width="0.8"/>
<line x1="46.6" x2="221.8" y1="322.23" y2="322.23" stroke-width="0.8"/>
<line x1="46.6" x2="221.8" y1="357" y2="357" stroke-width="0.9"/>
<line x1="46.6" x2="221.8" y1="347.07" y2="347.07" stroke-width="0.9"/>
<line x1="46.6" x2="221.8" y1="337.13" y2="337.13" stroke-width="0.9"/>
<line x1="46.6" x2="221.8" y1="327.2" y2="327.2" stroke-width="0.9"/>
<line x1="71.63" x2="71.63" y1="319.7" y2="358.7" stroke-width="0.9"/>
<line x1="113.34" x2="113.34" y1="319.7" y2="358.7" stroke-width="0.9"/>
<line x1="155.06" x2="155.06" y1="319.7" y2="358.7" stroke-width="0.9"/>
<line x1="196.77" x2="196.77" y1="319.7" y2="358.7" stroke-width="0.9"/>
</g>
<text transform="translate(42.2,360.58) scale(0.9,1)" font-size="10" text-anchor="end" fill="#2e2e2e" stroke="#2e2e2e" stroke-width="0.2">0.0</text>
<text transform="translate(42.2,350.65) scale(0.9,1)" font-size="10" text-anchor="end" fill="#2e2e2e" stroke="#2e2e2e" stroke-width="0.2">0.5</text>
<text transform="translate(42.2,340.71) scale(0.9,1)" font-size="10" text-anchor="end" fill="#2e2e2e" stroke="#2e2e2e" stroke-width="0.2">1.0</text>
<text transform="translate(42.2,330.78) scale(0.9,1)" font-size="10" text-anchor="end" fill="#2e2e2e" stroke="#2e2e2e" stroke-width="0.2">1.5</text>
<g stroke="#222">
<rect x="58.93" y="355.4" width="25.4" height="0.8" fill="#66C2A5" stroke-width="0.9"/>
<line x1="58.93" x2="84.33" y1="355.8" y2="355.8" stroke="#141414" stroke-width="1.6"/>
</g>
<g stroke="#222">
<line x1="113.34" x2="113.34" y1="350.5" y2="352.2" stroke-width="1"/>
<rect x="100.64" y="352.2" width="25.4" height="2.8" fill="#FC8D62" stroke-width="0.9"/>
<line x1="100.64" x2="126.04" y1="354.5" y2="354.5" stroke="#141414" stroke-width="1.6"/>
</g>
<g stroke="#222">
<rect x="142.36" y="353.9" width="25.4" height="0.8" fill="#8DA0CB" stroke-width="0.9"/>
<line x1="142.36" x2="167.76" y1="354.3" y2="354.3" stroke="#141414" stroke-width="1.6"/>
</g>
<g stroke="#222">
<line x1="196.77" x2="196.77" y1="330.3" y2="334.4" stroke-width="1"/>
<line x1="196.77" x2="196.77" y1="345.3" y2="351.5" stroke-width="1"/>
<rect x="184.07" y="334.4" width="25.4" height="10.9" fill="#E78AC3" stroke-width="0.9"/>
<line x1="184.07" x2="209.47" y1="339" y2="339" stroke="#141414" stroke-width="1.6"/>
</g>
<text transform="translate(71.63,350) scale(1.08,1)" font-size="9.2" text-anchor="middle" fill="#151515">a</text>
<text transform="translate(113.34,345.1) scale(1.08,1)" font-size="9.2" text-anchor="middle" fill="#151515">ab</text>
<text transform="translate(155.06,347.6) scale(1.08,1)" font-size="9.2" text-anchor="middle" fill="#151515">a</text>
<text transform="translate(196.77,324.4) scale(1.08,1)" font-size="9.2" text-anchor="middle" fill="#151515">b</text>
<text transform="translate(134.2,312.1) scale(0.98,1)" font-size="12.2" font-weight="bold" text-anchor="middle" fill="#000">Yb (mg kg<tspan font-size="9.15" dy="-5.12">-1</tspan><tspan dy="5.12">)</tspan></text>
<text transform="translate(83.3,372.5) rotate(-30)" font-size="8.6" text-anchor="end" fill="#3a3a3a">Agricultural biomass</text>
<text transform="translate(123.7,372.1) rotate(-30)" font-size="8.6" text-anchor="end" fill="#3a3a3a">Food waste</text>
<text transform="translate(164.2,371.6) rotate(-30)" font-size="8.6" text-anchor="end" fill="#3a3a3a">Manure</text>
<text transform="translate(203.6,371.5) rotate(-30)" font-size="8.6" text-anchor="end" fill="#3a3a3a">Sewage sludge</text>
<g stroke="#EBEBEB" fill="none">
<line x1="276.4" x2="451.9" y1="350.35" y2="350.35" stroke-width="0.8"/>
<line x1="276.4" x2="451.9" y1="338.05" y2="338.05" stroke-width="0.8"/>
<line x1="276.4" x2="451.9" y1="325.75" y2="325.75" stroke-width="0.8"/>
<line x1="276.4" x2="451.9" y1="356.5" y2="356.5" stroke-width="0.9"/>
<line x1="276.4" x2="451.9" y1="344.2" y2="344.2" stroke-width="0.9"/>
<line x1="276.4" x2="451.9" y1="331.9" y2="331.9" stroke-width="0.9"/>
<line x1="301.47" x2="301.47" y1="319.7" y2="358.7" stroke-width="0.9"/>
<line x1="343.26" x2="343.26" y1="319.7" y2="358.7" stroke-width="0.9"/>
<line x1="385.04" x2="385.04" y1="319.7" y2="358.7" stroke-width="0.9"/>
<line x1="426.83" x2="426.83" y1="319.7" y2="358.7" stroke-width="0.9"/>
</g>
<text transform="translate(272,360.08) scale(0.9,1)" font-size="10" text-anchor="end" fill="#2e2e2e" stroke="#2e2e2e" stroke-width="0.2">0.0</text>
<text transform="translate(272,347.78) scale(0.9,1)" font-size="10" text-anchor="end" fill="#2e2e2e" stroke="#2e2e2e" stroke-width="0.2">0.2</text>
<text transform="translate(272,335.48) scale(0.9,1)" font-size="10" text-anchor="end" fill="#2e2e2e" stroke="#2e2e2e" stroke-width="0.2">0.4</text>
<g stroke="#222">
<rect x="288.77" y="355.6" width="25.4" height="0.8" fill="#66C2A5" stroke-width="0.9"/>
<line x1="288.77" x2="314.17" y1="356" y2="356" stroke="#141414" stroke-width="1.6"/>
</g>
<g stroke="#222">
<line x1="343.26" x2="343.26" y1="354" y2="354.4" stroke-width="1"/>
<rect x="330.56" y="354.4" width="25.4" height="1.6" fill="#FC8D62" stroke-width="0.9"/>
<line x1="330.56" x2="355.96" y1="355.2" y2="355.2" stroke="#141414" stroke-width="1.6"/>
</g>
<g stroke="#222">
<rect x="372.34" y="355.1" width="25.4" height="0.8" fill="#8DA0CB" stroke-width="0.9"/>
<line x1="372.34" x2="397.74" y1="355.5" y2="355.5" stroke="#141414" stroke-width="1.6"/>
</g>
<g stroke="#222">
<line x1="426.83" x2="426.83" y1="342.7" y2="345.3" stroke-width="1"/>
<line x1="426.83" x2="426.83" y1="351.2" y2="353.7" stroke-width="1"/>
<rect x="414.13" y="345.3" width="25.4" height="5.9" fill="#E78AC3" stroke-width="0.9"/>
<line x1="414.13" x2="439.53" y1="348.1" y2="348.1" stroke="#141414" stroke-width="1.6"/>
</g>
<text transform="translate(301.47,337.1) scale(1.08,1)" font-size="9.2" text-anchor="middle" fill="#151515">a</text>
<text transform="translate(343.26,334.5) scale(1.08,1)" font-size="9.2" text-anchor="middle" fill="#151515">ab</text>
<text transform="translate(385.04,336.3) scale(1.08,1)" font-size="9.2" text-anchor="middle" fill="#151515">a</text>
<text transform="translate(426.83,324.3) scale(1.08,1)" font-size="9.2" text-anchor="middle" fill="#151515">b</text>
<text transform="translate(364.15,312.1) scale(0.98,1)" font-size="12.2" font-weight="bold" text-anchor="middle" fill="#000">Lu (mg kg<tspan font-size="9.15" dy="-5.12">-1</tspan><tspan dy="5.12">)</tspan></text>
<text transform="translate(325.4,372.5) rotate(-30)" font-size="8.6" text-anchor="end" fill="#3a3a3a">Agricultural biomass</text>
<text transform="translate(365.9,372) rotate(-30)" font-size="8.6" text-anchor="end" fill="#3a3a3a">Food waste</text>
<text transform="translate(405.6,371.8) rotate(-30)" font-size="8.6" text-anchor="end" fill="#3a3a3a">Manure</text>
<text transform="translate(445.2,371.5) rotate(-30)" font-size="8.6" text-anchor="end" fill="#3a3a3a">Sewage sludge</text>
<g stroke="#EBEBEB" fill="none">
<line x1="498.8" x2="674.1" y1="351.8" y2="351.8" stroke-width="0.8"/>
<line x1="498.8" x2="674.1" y1="342.4" y2="342.4" stroke-width="0.8"/>
<line x1="498.8" x2="674.1" y1="333" y2="333" stroke-width="0.8"/>
<line x1="498.8" x2="674.1" y1="323.6" y2="323.6" stroke-width="0.8"/>
<line x1="498.8" x2="674.1" y1="356.5" y2="356.5" stroke-width="0.9"/>
<line x1="498.8" x2="674.1" y1="347.1" y2="347.1" stroke-width="0.9"/>
<line x1="498.8" x2="674.1" y1="337.7" y2="337.7" stroke-width="0.9"/>
<line x1="498.8" x2="674.1" y1="328.3" y2="328.3" stroke-width="0.9"/>
<line x1="523.84" x2="523.84" y1="319.7" y2="358.7" stroke-width="0.9"/>
<line x1="565.58" x2="565.58" y1="319.7" y2="358.7" stroke-width="0.9"/>
<line x1="607.32" x2="607.32" y1="319.7" y2="358.7" stroke-width="0.9"/>
<line x1="649.06" x2="649.06" y1="319.7" y2="358.7" stroke-width="0.9"/>
</g>
<text transform="translate(494,360.08) scale(0.9,1)" font-size="10" text-anchor="end" fill="#2e2e2e" stroke="#2e2e2e" stroke-width="0.2">0</text>
<text transform="translate(494,350.68) scale(0.9,1)" font-size="10" text-anchor="end" fill="#2e2e2e" stroke="#2e2e2e" stroke-width="0.2">5</text>
<text transform="translate(494,341.28) scale(0.9,1)" font-size="10" text-anchor="end" fill="#2e2e2e" stroke="#2e2e2e" stroke-width="0.2">10</text>
<text transform="translate(494,331.88) scale(0.9,1)" font-size="10" text-anchor="end" fill="#2e2e2e" stroke="#2e2e2e" stroke-width="0.2">15</text>
<g stroke="#222">
<rect x="511.14" y="355.4" width="25.4" height="0.8" fill="#66C2A5" stroke-width="0.9"/>
<line x1="511.14" x2="536.54" y1="355.8" y2="355.8" stroke="#141414" stroke-width="1.6"/>
</g>
<g stroke="#222">
<line x1="565.58" x2="565.58" y1="351" y2="352.4" stroke-width="1"/>
<line x1="565.58" x2="565.58" y1="355" y2="355.4" stroke-width="1"/>
<rect x="552.88" y="352.4" width="25.4" height="2.6" fill="#FC8D62" stroke-width="0.9"/>
<line x1="552.88" x2="578.28" y1="353.8" y2="353.8" stroke="#141414" stroke-width="1.6"/>
</g>
<g stroke="#222">
<line x1="607.32" x2="607.32" y1="353" y2="354.1" stroke-width="1"/>
<rect x="594.62" y="354.1" width="25.4" height="0.8" fill="#8DA0CB" stroke-width="0.9"/>
<line x1="594.62" x2="620.02" y1="354.5" y2="354.5" stroke="#141414" stroke-width="1.6"/>
</g>
<g stroke="#222">
<line x1="649.06" x2="649.06" y1="327.9" y2="333.5" stroke-width="1"/>
<line x1="649.06" x2="649.06" y1="345" y2="350.6" stroke-width="1"/>
<rect x="636.36" y="333.5" width="25.4" height="11.5" fill="#E78AC3" stroke-width="0.9"/>
<line x1="636.36" x2="661.76" y1="339.1" y2="339.1" stroke="#141414" stroke-width="1.6"/>
</g>
<text transform="translate(523.84,355.5) scale(1.08,1)" font-size="9.2" text-anchor="middle" fill="#151515">a</text>
<text transform="translate(565.58,351.2) scale(1.08,1)" font-size="9.2" text-anchor="middle" fill="#151515">a</text>
<text transform="translate(607.32,353.7) scale(1.08,1)" font-size="9.2" text-anchor="middle" fill="#151515">ab</text>
<text transform="translate(649.06,324.6) scale(1.08,1)" font-size="9.2" text-anchor="middle" fill="#151515">b</text>
<text transform="translate(586.45,312.1) scale(0.98,1)" font-size="12.2" font-weight="bold" text-anchor="middle" fill="#000">Y (mg kg<tspan font-size="9.15" dy="-5.12">-1</tspan><tspan dy="5.12">)</tspan></text>
<text transform="translate(532.6,372.5) rotate(-30)" font-size="8.6" text-anchor="end" fill="#3a3a3a">Agricultural biomass</text>
<text transform="translate(572.9,372.5) rotate(-30)" font-size="8.6" text-anchor="end" fill="#3a3a3a">Food waste</text>
<text transform="translate(612.1,372) rotate(-30)" font-size="8.6" text-anchor="end" fill="#3a3a3a">Manure</text>
<text transform="translate(652.4,372) rotate(-30)" font-size="8.6" text-anchor="end" fill="#3a3a3a">Sewage sludge</text>
<g stroke="#EBEBEB" fill="none">
<line x1="46.5" x2="231" y1="534.38" y2="534.38" stroke-width="0.8"/>
<line x1="46.5" x2="231" y1="520.74" y2="520.74" stroke-width="0.8"/>
<line x1="46.5" x2="231" y1="507.1" y2="507.1" stroke-width="0.8"/>
<line x1="46.5" x2="231" y1="493.46" y2="493.46" stroke-width="0.8"/>
<line x1="46.5" x2="231" y1="479.82" y2="479.82" stroke-width="0.8"/>
<line x1="46.5" x2="231" y1="541.2" y2="541.2" stroke-width="0.9"/>
<line x1="46.5" x2="231" y1="527.56" y2="527.56" stroke-width="0.9"/>
<line x1="46.5" x2="231" y1="513.92" y2="513.92" stroke-width="0.9"/>
<line x1="46.5" x2="231" y1="500.28" y2="500.28" stroke-width="0.9"/>
<line x1="46.5" x2="231" y1="486.64" y2="486.64" stroke-width="0.9"/>
<line x1="46.5" x2="231" y1="473" y2="473" stroke-width="0.9"/>
<line x1="72.86" x2="72.86" y1="471.4" y2="544.7" stroke-width="0.9"/>
<line x1="116.79" x2="116.79" y1="471.4" y2="544.7" stroke-width="0.9"/>
<line x1="160.71" x2="160.71" y1="471.4" y2="544.7" stroke-width="0.9"/>
<line x1="204.64" x2="204.64" y1="471.4" y2="544.7" stroke-width="0.9"/>
</g>
<text transform="translate(41,544.85) scale(0.92,1)" font-size="10.2" text-anchor="end" fill="#2e2e2e" stroke="#2e2e2e" stroke-width="0.2">0</text>
<text transform="translate(41,531.21) scale(0.92,1)" font-size="10.2" text-anchor="end" fill="#2e2e2e" stroke="#2e2e2e" stroke-width="0.2">10</text>
<text transform="translate(41,517.57) scale(0.92,1)" font-size="10.2" text-anchor="end" fill="#2e2e2e" stroke="#2e2e2e" stroke-width="0.2">20</text>
<text transform="translate(41,503.93) scale(0.92,1)" font-size="10.2" text-anchor="end" fill="#2e2e2e" stroke="#2e2e2e" stroke-width="0.2">30</text>
<text transform="translate(41,490.29) scale(0.92,1)" font-size="10.2" text-anchor="end" fill="#2e2e2e" stroke="#2e2e2e" stroke-width="0.2">40</text>
<text transform="translate(41,476.65) scale(0.92,1)" font-size="10.2" text-anchor="end" fill="#2e2e2e" stroke="#2e2e2e" stroke-width="0.2">50</text>
<g stroke="#222">
<line x1="72.86" x2="72.86" y1="522.9" y2="525.1" stroke-width="1"/>
<line x1="72.86" x2="72.86" y1="529.7" y2="531.7" stroke-width="1"/>
<rect x="59.36" y="525.1" width="27" height="4.6" fill="#66C2A5" stroke-width="0.9"/>
<line x1="59.36" x2="86.36" y1="527.2" y2="527.2" stroke="#141414" stroke-width="1.6"/>
</g>
<g stroke="#222">
<line x1="116.79" x2="116.79" y1="499" y2="506.4" stroke-width="1"/>
<line x1="116.79" x2="116.79" y1="520.5" y2="526" stroke-width="1"/>
<rect x="103.29" y="506.4" width="27" height="14.1" fill="#FC8D62" stroke-width="0.9"/>
<line x1="103.29" x2="130.29" y1="511.3" y2="511.3" stroke="#141414" stroke-width="1.6"/>
</g>
<g stroke="#222">
<line x1="160.71" x2="160.71" y1="484.2" y2="496.9" stroke-width="1"/>
<line x1="160.71" x2="160.71" y1="507.2" y2="516" stroke-width="1"/>
<rect x="147.21" y="496.9" width="27" height="10.3" fill="#8DA0CB" stroke-width="0.9"/>
<line x1="147.21" x2="174.21" y1="502.6" y2="502.6" stroke="#141414" stroke-width="1.6"/>
</g>
<g stroke="#222">
<line x1="204.64" x2="204.64" y1="531.2" y2="534.7" stroke-width="1"/>
<rect x="191.14" y="526.6" width="27" height="4.6" fill="#E78AC3" stroke-width="0.9"/>
<line x1="191.14" x2="218.14" y1="527.1" y2="527.1" stroke="#141414" stroke-width="1.6"/>
</g>
<text transform="translate(72.86,522) scale(1.08,1)" font-size="9.2" text-anchor="middle" fill="#151515">ab</text>
<text transform="translate(116.79,495.2) scale(1.08,1)" font-size="9.2" text-anchor="middle" fill="#151515">ab</text>
<text transform="translate(160.71,480.3) scale(1.08,1)" font-size="9.2" text-anchor="middle" fill="#151515">a</text>
<text transform="translate(204.64,525.1) scale(1.08,1)" font-size="9.2" text-anchor="middle" fill="#151515">b</text>
<text transform="translate(138.75,462.8) scale(1,1)" font-size="13" font-weight="bold" text-anchor="middle" fill="#000">B (mg kg<tspan font-size="9.75" dy="-5.46">-1</tspan><tspan dy="5.46">)</tspan></text>
<g stroke="#EBEBEB" fill="none">
<line x1="278.2" x2="461.9" y1="532.71" y2="532.71" stroke-width="0.8"/>
<line x1="278.2" x2="461.9" y1="516.34" y2="516.34" stroke-width="0.8"/>
<line x1="278.2" x2="461.9" y1="499.96" y2="499.96" stroke-width="0.8"/>
<line x1="278.2" x2="461.9" y1="483.59" y2="483.59" stroke-width="0.8"/>
<line x1="278.2" x2="461.9" y1="540.9" y2="540.9" stroke-width="0.9"/>
<line x1="278.2" x2="461.9" y1="524.52" y2="524.52" stroke-width="0.9"/>
<line x1="278.2" x2="461.9" y1="508.15" y2="508.15" stroke-width="0.9"/>
<line x1="278.2" x2="461.9" y1="491.77" y2="491.77" stroke-width="0.9"/>
<line x1="278.2" x2="461.9" y1="475.4" y2="475.4" stroke-width="0.9"/>
<line x1="304.44" x2="304.44" y1="471.4" y2="544.7" stroke-width="0.9"/>
<line x1="348.18" x2="348.18" y1="471.4" y2="544.7" stroke-width="0.9"/>
<line x1="391.92" x2="391.92" y1="471.4" y2="544.7" stroke-width="0.9"/>
<line x1="435.66" x2="435.66" y1="471.4" y2="544.7" stroke-width="0.9"/>
</g>
<text transform="translate(273,544.55) scale(0.92,1)" font-size="10.2" text-anchor="end" fill="#2e2e2e" stroke="#2e2e2e" stroke-width="0.2">0</text>
<text transform="translate(273,528.18) scale(0.92,1)" font-size="10.2" text-anchor="end" fill="#2e2e2e" stroke="#2e2e2e" stroke-width="0.2">20000</text>
<text transform="translate(273,511.8) scale(0.92,1)" font-size="10.2" text-anchor="end" fill="#2e2e2e" stroke="#2e2e2e" stroke-width="0.2">40000</text>
<text transform="translate(273,495.43) scale(0.92,1)" font-size="10.2" text-anchor="end" fill="#2e2e2e" stroke="#2e2e2e" stroke-width="0.2">60000</text>
<text transform="translate(273,479.05) scale(0.92,1)" font-size="10.2" text-anchor="end" fill="#2e2e2e" stroke="#2e2e2e" stroke-width="0.2">80000</text>
<g stroke="#222">
<rect x="290.94" y="531.2" width="27" height="2.5" fill="#66C2A5" stroke-width="0.9"/>
<line x1="290.94" x2="317.94" y1="532.4" y2="532.4" stroke="#141414" stroke-width="1.6"/>
</g>
<g stroke="#222">
<line x1="348.18" x2="348.18" y1="521.4" y2="527.4" stroke-width="1"/>
<line x1="348.18" x2="348.18" y1="534.7" y2="536.7" stroke-width="1"/>
<rect x="334.68" y="527.4" width="27" height="7.3" fill="#FC8D62" stroke-width="0.9"/>
<line x1="334.68" x2="361.68" y1="531.2" y2="531.2" stroke="#141414" stroke-width="1.6"/>
</g>
<g stroke="#222">
<line x1="391.92" x2="391.92" y1="532.4" y2="534.3" stroke-width="1"/>
<line x1="391.92" x2="391.92" y1="537.6" y2="539.6" stroke-width="1"/>
<rect x="378.42" y="534.3" width="27" height="3.3" fill="#8DA0CB" stroke-width="0.9"/>
<line x1="378.42" x2="405.42" y1="537" y2="537" stroke="#141414" stroke-width="1.6"/>
</g>
<circle cx="391.92" cy="527.8" r="1.15" fill="#111"/>
<g stroke="#222">
<line x1="435.66" x2="435.66" y1="483.7" y2="486.5" stroke-width="1"/>
<line x1="435.66" x2="435.66" y1="494.1" y2="497.6" stroke-width="1"/>
<rect x="422.16" y="486.5" width="27" height="7.6" fill="#E78AC3" stroke-width="0.9"/>
<line x1="422.16" x2="449.16" y1="489.2" y2="489.2" stroke="#141414" stroke-width="1.6"/>
</g>
<text transform="translate(304.44,530.1) scale(1.08,1)" font-size="9.2" text-anchor="middle" fill="#151515">ab</text>
<text transform="translate(348.18,519) scale(1.08,1)" font-size="9.2" text-anchor="middle" fill="#151515">ab</text>
<text transform="translate(391.92,527.1) scale(1.08,1)" font-size="9.2" text-anchor="middle" fill="#151515">a</text>
<text transform="translate(435.66,480) scale(1.08,1)" font-size="9.2" text-anchor="middle" fill="#151515">b</text>
<text transform="translate(370.05,462.8) scale(1,1)" font-size="13" font-weight="bold" text-anchor="middle" fill="#000">Fe (mg kg<tspan font-size="9.75" dy="-5.46">-1</tspan><tspan dy="5.46">)</tspan></text>
<g stroke="#EBEBEB" fill="none">
<line x1="498.5" x2="683" y1="532.73" y2="532.73" stroke-width="0.8"/>
<line x1="498.5" x2="683" y1="515.77" y2="515.77" stroke-width="0.8"/>
<line x1="498.5" x2="683" y1="498.83" y2="498.83" stroke-width="0.8"/>
<line x1="498.5" x2="683" y1="481.88" y2="481.88" stroke-width="0.8"/>
<line x1="498.5" x2="683" y1="541.2" y2="541.2" stroke-width="0.9"/>
<line x1="498.5" x2="683" y1="524.25" y2="524.25" stroke-width="0.9"/>
<line x1="498.5" x2="683" y1="507.3" y2="507.3" stroke-width="0.9"/>
<line x1="498.5" x2="683" y1="490.35" y2="490.35" stroke-width="0.9"/>
<line x1="498.5" x2="683" y1="473.4" y2="473.4" stroke-width="0.9"/>
<line x1="524.86" x2="524.86" y1="471.4" y2="544.7" stroke-width="0.9"/>
<line x1="568.79" x2="568.79" y1="471.4" y2="544.7" stroke-width="0.9"/>
<line x1="612.71" x2="612.71" y1="471.4" y2="544.7" stroke-width="0.9"/>
<line x1="656.64" x2="656.64" y1="471.4" y2="544.7" stroke-width="0.9"/>
</g>
<text transform="translate(494.3,544.85) scale(0.92,1)" font-size="10.2" text-anchor="end" fill="#2e2e2e" stroke="#2e2e2e" stroke-width="0.2">0</text>
<text transform="translate(494.3,527.9) scale(0.92,1)" font-size="10.2" text-anchor="end" fill="#2e2e2e" stroke="#2e2e2e" stroke-width="0.2">100</text>
<text transform="translate(494.3,510.95) scale(0.92,1)" font-size="10.2" text-anchor="end" fill="#2e2e2e" stroke="#2e2e2e" stroke-width="0.2">200</text>
<text transform="translate(494.3,494) scale(0.92,1)" font-size="10.2" text-anchor="end" fill="#2e2e2e" stroke="#2e2e2e" stroke-width="0.2">300</text>
<text transform="translate(494.3,477.05) scale(0.92,1)" font-size="10.2" text-anchor="end" fill="#2e2e2e" stroke="#2e2e2e" stroke-width="0.2">400</text>
<g stroke="#222">
<rect x="511.36" y="511.2" width="27" height="2" fill="#66C2A5" stroke-width="0.9"/>
<line x1="511.36" x2="538.36" y1="512.2" y2="512.2" stroke="#141414" stroke-width="1.6"/>
</g>
<g stroke="#222">
<line x1="568.79" x2="568.79" y1="495.3" y2="501" stroke-width="1"/>
<line x1="568.79" x2="568.79" y1="513.7" y2="522" stroke-width="1"/>
<rect x="555.29" y="501" width="27" height="12.7" fill="#FC8D62" stroke-width="0.9"/>
<line x1="555.29" x2="582.29" y1="510.5" y2="510.5" stroke="#141414" stroke-width="1.6"/>
</g>
<g stroke="#222">
<line x1="612.71" x2="612.71" y1="483.7" y2="488" stroke-width="1"/>
<rect x="599.21" y="488" width="27" height="6.4" fill="#8DA0CB" stroke-width="0.9"/>
<line x1="599.21" x2="626.21" y1="493.7" y2="493.7" stroke="#141414" stroke-width="1.6"/>
</g>
<circle cx="612.71" cy="506.4" r="1.15" fill="#111"/>
<g stroke="#222">
<line x1="656.64" x2="656.64" y1="493.8" y2="502.2" stroke-width="1"/>
<rect x="643.14" y="484.6" width="27" height="9.2" fill="#E78AC3" stroke-width="0.9"/>
<line x1="643.14" x2="670.14" y1="484.9" y2="484.9" stroke="#141414" stroke-width="1.6"/>
</g>
<text transform="translate(524.86,507.6) scale(1.08,1)" font-size="9.2" text-anchor="middle" fill="#151515">ab</text>
<text transform="translate(568.79,491.8) scale(1.08,1)" font-size="9.2" text-anchor="middle" fill="#151515">a</text>
<text transform="translate(612.71,479.9) scale(1.08,1)" font-size="9.2" text-anchor="middle" fill="#151515">b</text>
<text transform="translate(656.64,480.3) scale(1.08,1)" font-size="9.2" text-anchor="middle" fill="#151515">ab</text>
<text transform="translate(590.75,462.8) scale(1,1)" font-size="13" font-weight="bold" text-anchor="middle" fill="#000">Mn (mg kg<tspan font-size="9.75" dy="-5.46">-1</tspan><tspan dy="5.46">)</tspan></text>
<g stroke="#EBEBEB" fill="none">
<line x1="46.5" x2="231" y1="635.93" y2="635.93" stroke-width="0.8"/>
<line x1="46.5" x2="231" y1="611.38" y2="611.38" stroke-width="0.8"/>
<line x1="46.5" x2="231" y1="586.83" y2="586.83" stroke-width="0.8"/>
<line x1="46.5" x2="231" y1="648.2" y2="648.2" stroke-width="0.9"/>
<line x1="46.5" x2="231" y1="623.65" y2="623.65" stroke-width="0.9"/>
<line x1="46.5" x2="231" y1="599.1" y2="599.1" stroke-width="0.9"/>
<line x1="72.86" x2="72.86" y1="578.4" y2="651.7" stroke-width="0.9"/>
<line x1="116.79" x2="116.79" y1="578.4" y2="651.7" stroke-width="0.9"/>
<line x1="160.71" x2="160.71" y1="578.4" y2="651.7" stroke-width="0.9"/>
<line x1="204.64" x2="204.64" y1="578.4" y2="651.7" stroke-width="0.9"/>
</g>
<text transform="translate(41,651.85) scale(0.92,1)" font-size="10.2" text-anchor="end" fill="#2e2e2e" stroke="#2e2e2e" stroke-width="0.2">0</text>
<text transform="translate(41,627.3) scale(0.92,1)" font-size="10.2" text-anchor="end" fill="#2e2e2e" stroke="#2e2e2e" stroke-width="0.2">200</text>
<text transform="translate(41,602.75) scale(0.92,1)" font-size="10.2" text-anchor="end" fill="#2e2e2e" stroke="#2e2e2e" stroke-width="0.2">400</text>
<g stroke="#222">
<rect x="59.36" y="633.2" width="27" height="2.3" fill="#66C2A5" stroke-width="0.9"/>
<line x1="59.36" x2="86.36" y1="634.4" y2="634.4" stroke="#141414" stroke-width="1.6"/>
</g>
<g stroke="#222">
<line x1="116.79" x2="116.79" y1="608.3" y2="617.8" stroke-width="1"/>
<line x1="116.79" x2="116.79" y1="629.5" y2="634.7" stroke-width="1"/>
<rect x="103.29" y="617.8" width="27" height="11.7" fill="#FC8D62" stroke-width="0.9"/>
<line x1="103.29" x2="130.29" y1="623.6" y2="623.6" stroke="#141414" stroke-width="1.6"/>
</g>
<g stroke="#222">
<line x1="160.71" x2="160.71" y1="594.2" y2="603" stroke-width="1"/>
<line x1="160.71" x2="160.71" y1="617.5" y2="619.4" stroke-width="1"/>
<rect x="147.21" y="603" width="27" height="14.5" fill="#8DA0CB" stroke-width="0.9"/>
<line x1="147.21" x2="174.21" y1="611.1" y2="611.1" stroke="#141414" stroke-width="1.6"/>
</g>
<g stroke="#222">
<line x1="204.64" x2="204.64" y1="590.2" y2="591.9" stroke-width="1"/>
<line x1="204.64" x2="204.64" y1="596.1" y2="597.6" stroke-width="1"/>
<rect x="191.14" y="591.9" width="27" height="4.2" fill="#E78AC3" stroke-width="0.9"/>
<line x1="191.14" x2="218.14" y1="593.8" y2="593.8" stroke="#141414" stroke-width="1.6"/>
</g>
<text transform="translate(72.86,631.8) scale(1.08,1)" font-size="9.2" text-anchor="middle" fill="#151515">a</text>
<text transform="translate(116.79,604) scale(1.08,1)" font-size="9.2" text-anchor="middle" fill="#151515">ab</text>
<text transform="translate(160.71,590.4) scale(1.08,1)" font-size="9.2" text-anchor="middle" fill="#151515">bc</text>
<text transform="translate(204.64,586.1) scale(1.08,1)" font-size="9.2" text-anchor="middle" fill="#151515">c</text>
<text transform="translate(138.75,569.8) scale(1,1)" font-size="13" font-weight="bold" text-anchor="middle" fill="#000">Zn (mg kg<tspan font-size="9.75" dy="-5.46">-1</tspan><tspan dy="5.46">)</tspan></text>
<g stroke="#EBEBEB" fill="none">
<line x1="278.2" x2="461.9" y1="639.6" y2="639.6" stroke-width="0.8"/>
<line x1="278.2" x2="461.9" y1="624" y2="624" stroke-width="0.8"/>
<line x1="278.2" x2="461.9" y1="608.4" y2="608.4" stroke-width="0.8"/>
<line x1="278.2" x2="461.9" y1="592.8" y2="592.8" stroke-width="0.8"/>
<line x1="278.2" x2="461.9" y1="647.4" y2="647.4" stroke-width="0.9"/>
<line x1="278.2" x2="461.9" y1="631.8" y2="631.8" stroke-width="0.9"/>
<line x1="278.2" x2="461.9" y1="616.2" y2="616.2" stroke-width="0.9"/>
<line x1="278.2" x2="461.9" y1="600.6" y2="600.6" stroke-width="0.9"/>
<line x1="278.2" x2="461.9" y1="585" y2="585" stroke-width="0.9"/>
<line x1="304.44" x2="304.44" y1="578.4" y2="651.7" stroke-width="0.9"/>
<line x1="348.18" x2="348.18" y1="578.4" y2="651.7" stroke-width="0.9"/>
<line x1="391.92" x2="391.92" y1="578.4" y2="651.7" stroke-width="0.9"/>
<line x1="435.66" x2="435.66" y1="578.4" y2="651.7" stroke-width="0.9"/>
</g>
<text transform="translate(273,651.05) scale(0.92,1)" font-size="10.2" text-anchor="end" fill="#2e2e2e" stroke="#2e2e2e" stroke-width="0.2">0</text>
<text transform="translate(273,635.45) scale(0.92,1)" font-size="10.2" text-anchor="end" fill="#2e2e2e" stroke="#2e2e2e" stroke-width="0.2">100</text>
<text transform="translate(273,619.85) scale(0.92,1)" font-size="10.2" text-anchor="end" fill="#2e2e2e" stroke="#2e2e2e" stroke-width="0.2">200</text>
<text transform="translate(273,604.25) scale(0.92,1)" font-size="10.2" text-anchor="end" fill="#2e2e2e" stroke="#2e2e2e" stroke-width="0.2">300</text>
<text transform="translate(273,588.65) scale(0.92,1)" font-size="10.2" text-anchor="end" fill="#2e2e2e" stroke="#2e2e2e" stroke-width="0.2">400</text>
<g stroke="#222">
<line x1="304.44" x2="304.44" y1="644.4" y2="644.7" stroke-width="1"/>
<rect x="290.94" y="644.7" width="27" height="0.8" fill="#66C2A5" stroke-width="0.9"/>
<line x1="290.94" x2="317.94" y1="645.1" y2="645.1" stroke="#141414" stroke-width="1.6"/>
</g>
<g stroke="#222">
<line x1="348.18" x2="348.18" y1="637" y2="638.2" stroke-width="1"/>
<line x1="348.18" x2="348.18" y1="641.3" y2="643.3" stroke-width="1"/>
<rect x="334.68" y="638.2" width="27" height="3.1" fill="#FC8D62" stroke-width="0.9"/>
<line x1="334.68" x2="361.68" y1="640.6" y2="640.6" stroke="#141414" stroke-width="1.6"/>
</g>
<circle cx="348.18" cy="630.5" r="1.15" fill="#111"/>
<g stroke="#222">
<line x1="391.92" x2="391.92" y1="611.4" y2="620.1" stroke-width="1"/>
<line x1="391.92" x2="391.92" y1="634.1" y2="636.7" stroke-width="1"/>
<rect x="378.42" y="620.1" width="27" height="14" fill="#8DA0CB" stroke-width="0.9"/>
<line x1="378.42" x2="405.42" y1="629" y2="629" stroke="#141414" stroke-width="1.6"/>
</g>
<g stroke="#222">
<line x1="435.66" x2="435.66" y1="589.9" y2="597.6" stroke-width="1"/>
<line x1="435.66" x2="435.66" y1="611.4" y2="617.2" stroke-width="1"/>
<rect x="422.16" y="597.6" width="27" height="13.8" fill="#E78AC3" stroke-width="0.9"/>
<line x1="422.16" x2="449.16" y1="605.3" y2="605.3" stroke="#141414" stroke-width="1.6"/>
</g>
<text transform="translate(304.44,644.8) scale(1.08,1)" font-size="9.2" text-anchor="middle" fill="#151515">a</text>
<text transform="translate(348.18,628) scale(1.08,1)" font-size="9.2" text-anchor="middle" fill="#151515">a</text>
<text transform="translate(391.92,608) scale(1.08,1)" font-size="9.2" text-anchor="middle" fill="#151515">b</text>
<text transform="translate(435.66,586.1) scale(1.08,1)" font-size="9.2" text-anchor="middle" fill="#151515">b</text>
<text transform="translate(370.05,569.8) scale(1,1)" font-size="13" font-weight="bold" text-anchor="middle" fill="#000">Cu (mg kg<tspan font-size="9.75" dy="-5.46">-1</tspan><tspan dy="5.46">)</tspan></text>
<text transform="translate(308.3,663.6) rotate(-30)" font-size="9.6" text-anchor="end" fill="#3a3a3a">Agricultural biomass</text>
<text transform="translate(352.9,663.5) rotate(-30)" font-size="9.6" text-anchor="end" fill="#3a3a3a">Food waste</text>
<text transform="translate(396.2,663.5) rotate(-30)" font-size="9.6" text-anchor="end" fill="#3a3a3a">Manure</text>
<text transform="translate(439.9,663.5) rotate(-30)" font-size="9.6" text-anchor="end" fill="#3a3a3a">Sewage sludge</text>
<g stroke="#EBEBEB" fill="none">
<line x1="498.5" x2="683" y1="634.65" y2="634.65" stroke-width="0.8"/>
<line x1="498.5" x2="683" y1="609.15" y2="609.15" stroke-width="0.8"/>
<line x1="498.5" x2="683" y1="583.65" y2="583.65" stroke-width="0.8"/>
<line x1="498.5" x2="683" y1="647.4" y2="647.4" stroke-width="0.9"/>
<line x1="498.5" x2="683" y1="621.9" y2="621.9" stroke-width="0.9"/>
<line x1="498.5" x2="683" y1="596.4" y2="596.4" stroke-width="0.9"/>
<line x1="524.86" x2="524.86" y1="578.4" y2="651.7" stroke-width="0.9"/>
<line x1="568.79" x2="568.79" y1="578.4" y2="651.7" stroke-width="0.9"/>
<line x1="612.71" x2="612.71" y1="578.4" y2="651.7" stroke-width="0.9"/>
<line x1="656.64" x2="656.64" y1="578.4" y2="651.7" stroke-width="0.9"/>
</g>
<text transform="translate(494.3,651.05) scale(0.92,1)" font-size="10.2" text-anchor="end" fill="#2e2e2e" stroke="#2e2e2e" stroke-width="0.2">0</text>
<text transform="translate(494.3,625.55) scale(0.92,1)" font-size="10.2" text-anchor="end" fill="#2e2e2e" stroke="#2e2e2e" stroke-width="0.2">5</text>
<text transform="translate(494.3,600.05) scale(0.92,1)" font-size="10.2" text-anchor="end" fill="#2e2e2e" stroke="#2e2e2e" stroke-width="0.2">10</text>
<g stroke="#222">
<line x1="524.86" x2="524.86" y1="634.3" y2="634.6" stroke-width="1"/>
<rect x="511.36" y="633.5" width="27" height="0.8" fill="#66C2A5" stroke-width="0.9"/>
<line x1="511.36" x2="538.36" y1="633.9" y2="633.9" stroke="#141414" stroke-width="1.6"/>
</g>
<g stroke="#222">
<line x1="568.79" x2="568.79" y1="627.5" y2="629.8" stroke-width="1"/>
<line x1="568.79" x2="568.79" y1="635.9" y2="639.7" stroke-width="1"/>
<rect x="555.29" y="629.8" width="27" height="6.1" fill="#FC8D62" stroke-width="0.9"/>
<line x1="555.29" x2="582.29" y1="632.5" y2="632.5" stroke="#141414" stroke-width="1.6"/>
</g>
<circle cx="568.79" cy="612.5" r="1.15" fill="#111"/>
<g stroke="#222">
<line x1="612.71" x2="612.71" y1="627" y2="627.9" stroke-width="1"/>
<line x1="612.71" x2="612.71" y1="633.6" y2="634.4" stroke-width="1"/>
<rect x="599.21" y="627.9" width="27" height="5.7" fill="#8DA0CB" stroke-width="0.9"/>
<line x1="599.21" x2="626.21" y1="629" y2="629" stroke="#141414" stroke-width="1.6"/>
</g>
<circle cx="612.71" cy="619" r="1.15" fill="#111"/>
<g stroke="#222">
<line x1="656.64" x2="656.64" y1="590.7" y2="601.9" stroke-width="1"/>
<line x1="656.64" x2="656.64" y1="617.8" y2="621.8" stroke-width="1"/>
<rect x="643.14" y="601.9" width="27" height="15.9" fill="#E78AC3" stroke-width="0.9"/>
<line x1="643.14" x2="670.14" y1="613.7" y2="613.7" stroke="#141414" stroke-width="1.6"/>
</g>
<text transform="translate(524.86,631.6) scale(1.08,1)" font-size="9.2" text-anchor="middle" fill="#151515">ab</text>
<text transform="translate(568.79,608.3) scale(1.08,1)" font-size="9.2" text-anchor="middle" fill="#151515">a</text>
<text transform="translate(612.71,616.8) scale(1.08,1)" font-size="9.2" text-anchor="middle" fill="#151515">ab</text>
<text transform="translate(656.64,586.1) scale(1.08,1)" font-size="9.2" text-anchor="middle" fill="#151515">b</text>
<text transform="translate(590.75,569.8) scale(1,1)" font-size="13" font-weight="bold" text-anchor="middle" fill="#000">Mo (mg kg<tspan font-size="9.75" dy="-5.46">-1</tspan><tspan dy="5.46">)</tspan></text>
<text transform="translate(529.2,663.6) rotate(-30)" font-size="9.6" text-anchor="end" fill="#3a3a3a">Agricultural biomass</text>
<text transform="translate(573.5,663.5) rotate(-30)" font-size="9.6" text-anchor="end" fill="#3a3a3a">Food waste</text>
<text transform="translate(616.5,663.5) rotate(-30)" font-size="9.6" text-anchor="end" fill="#3a3a3a">Manure</text>
<text transform="translate(660.8,663.5) rotate(-30)" font-size="9.6" text-anchor="end" fill="#3a3a3a">Sewage sludge</text>
<g stroke="#EBEBEB" fill="none">
<line x1="46.5" x2="231" y1="801.53" y2="801.53" stroke-width="0.8"/>
<line x1="46.5" x2="231" y1="788.19" y2="788.19" stroke-width="0.8"/>
<line x1="46.5" x2="231" y1="774.85" y2="774.85" stroke-width="0.8"/>
<line x1="46.5" x2="231" y1="761.51" y2="761.51" stroke-width="0.8"/>
<line x1="46.5" x2="231" y1="748.17" y2="748.17" stroke-width="0.8"/>
<line x1="46.5" x2="231" y1="808.2" y2="808.2" stroke-width="0.9"/>
<line x1="46.5" x2="231" y1="794.86" y2="794.86" stroke-width="0.9"/>
<line x1="46.5" x2="231" y1="781.52" y2="781.52" stroke-width="0.9"/>
<line x1="46.5" x2="231" y1="768.18" y2="768.18" stroke-width="0.9"/>
<line x1="46.5" x2="231" y1="754.84" y2="754.84" stroke-width="0.9"/>
<line x1="46.5" x2="231" y1="741.5" y2="741.5" stroke-width="0.9"/>
<line x1="72.86" x2="72.86" y1="737" y2="811.3" stroke-width="0.9"/>
<line x1="116.79" x2="116.79" y1="737" y2="811.3" stroke-width="0.9"/>
<line x1="160.71" x2="160.71" y1="737" y2="811.3" stroke-width="0.9"/>
<line x1="204.64" x2="204.64" y1="737" y2="811.3" stroke-width="0.9"/>
</g>
<text transform="translate(41,811.85) scale(0.92,1)" font-size="10.2" text-anchor="end" fill="#2e2e2e" stroke="#2e2e2e" stroke-width="0.2">0</text>
<text transform="translate(41,798.51) scale(0.92,1)" font-size="10.2" text-anchor="end" fill="#2e2e2e" stroke="#2e2e2e" stroke-width="0.2">5</text>
<text transform="translate(41,785.17) scale(0.92,1)" font-size="10.2" text-anchor="end" fill="#2e2e2e" stroke="#2e2e2e" stroke-width="0.2">10</text>
<text transform="translate(41,771.83) scale(0.92,1)" font-size="10.2" text-anchor="end" fill="#2e2e2e" stroke="#2e2e2e" stroke-width="0.2">15</text>
<text transform="translate(41,758.49) scale(0.92,1)" font-size="10.2" text-anchor="end" fill="#2e2e2e" stroke="#2e2e2e" stroke-width="0.2">20</text>
<text transform="translate(41,745.15) scale(0.92,1)" font-size="10.2" text-anchor="end" fill="#2e2e2e" stroke="#2e2e2e" stroke-width="0.2">25</text>
<g stroke="#222">
<line x1="72.86" x2="72.86" y1="792.8" y2="793.1" stroke-width="1"/>
<rect x="59.36" y="792" width="27" height="0.8" fill="#66C2A5" stroke-width="0.9"/>
<line x1="59.36" x2="86.36" y1="792.4" y2="792.4" stroke="#141414" stroke-width="1.6"/>
</g>
<g stroke="#222">
<line x1="116.79" x2="116.79" y1="779.8" y2="784.4" stroke-width="1"/>
<line x1="116.79" x2="116.79" y1="790.5" y2="792.5" stroke-width="1"/>
<rect x="103.29" y="784.4" width="27" height="6.1" fill="#FC8D62" stroke-width="0.9"/>
<line x1="103.29" x2="130.29" y1="787.9" y2="787.9" stroke="#141414" stroke-width="1.6"/>
</g>
<g stroke="#222">
<line x1="160.71" x2="160.71" y1="786.4" y2="789" stroke-width="1"/>
<line x1="160.71" x2="160.71" y1="793.6" y2="798.2" stroke-width="1"/>
<rect x="147.21" y="789" width="27" height="4.6" fill="#8DA0CB" stroke-width="0.9"/>
<line x1="147.21" x2="174.21" y1="789" y2="789" stroke="#141414" stroke-width="1.6"/>
</g>
<g stroke="#222">
<line x1="204.64" x2="204.64" y1="749.9" y2="757.6" stroke-width="1"/>
<rect x="191.14" y="757.6" width="27" height="8.4" fill="#E78AC3" stroke-width="0.9"/>
<line x1="191.14" x2="218.14" y1="765.3" y2="765.3" stroke="#141414" stroke-width="1.6"/>
</g>
<text transform="translate(72.86,790.5) scale(1.08,1)" font-size="9.2" text-anchor="middle" fill="#151515">a</text>
<text transform="translate(116.79,779) scale(1.08,1)" font-size="9.2" text-anchor="middle" fill="#151515">ab</text>
<text transform="translate(160.71,784.4) scale(1.08,1)" font-size="9.2" text-anchor="middle" fill="#151515">a</text>
<text transform="translate(204.64,745.8) scale(1.08,1)" font-size="9.2" text-anchor="middle" fill="#151515">b</text>
<text transform="translate(139.35,728.6) scale(1,1)" font-size="13" font-weight="bold" text-anchor="middle" fill="#000">Ni (mg kg<tspan font-size="9.75" dy="-5.46">-1</tspan><tspan dy="5.46">)</tspan></text>
<text transform="translate(72.5,823.4) rotate(-30)" font-size="8.6" text-anchor="end" fill="#3a3a3a">Agricultural biomass</text>
<text transform="translate(112.2,823.4) rotate(-30)" font-size="8.6" text-anchor="end" fill="#3a3a3a">Food waste</text>
<text transform="translate(152.8,823) rotate(-30)" font-size="8.6" text-anchor="end" fill="#3a3a3a">Manure</text>
<text transform="translate(193.1,823) rotate(-30)" font-size="8.6" text-anchor="end" fill="#3a3a3a">Sewage sludge</text>
</svg></body></html>
